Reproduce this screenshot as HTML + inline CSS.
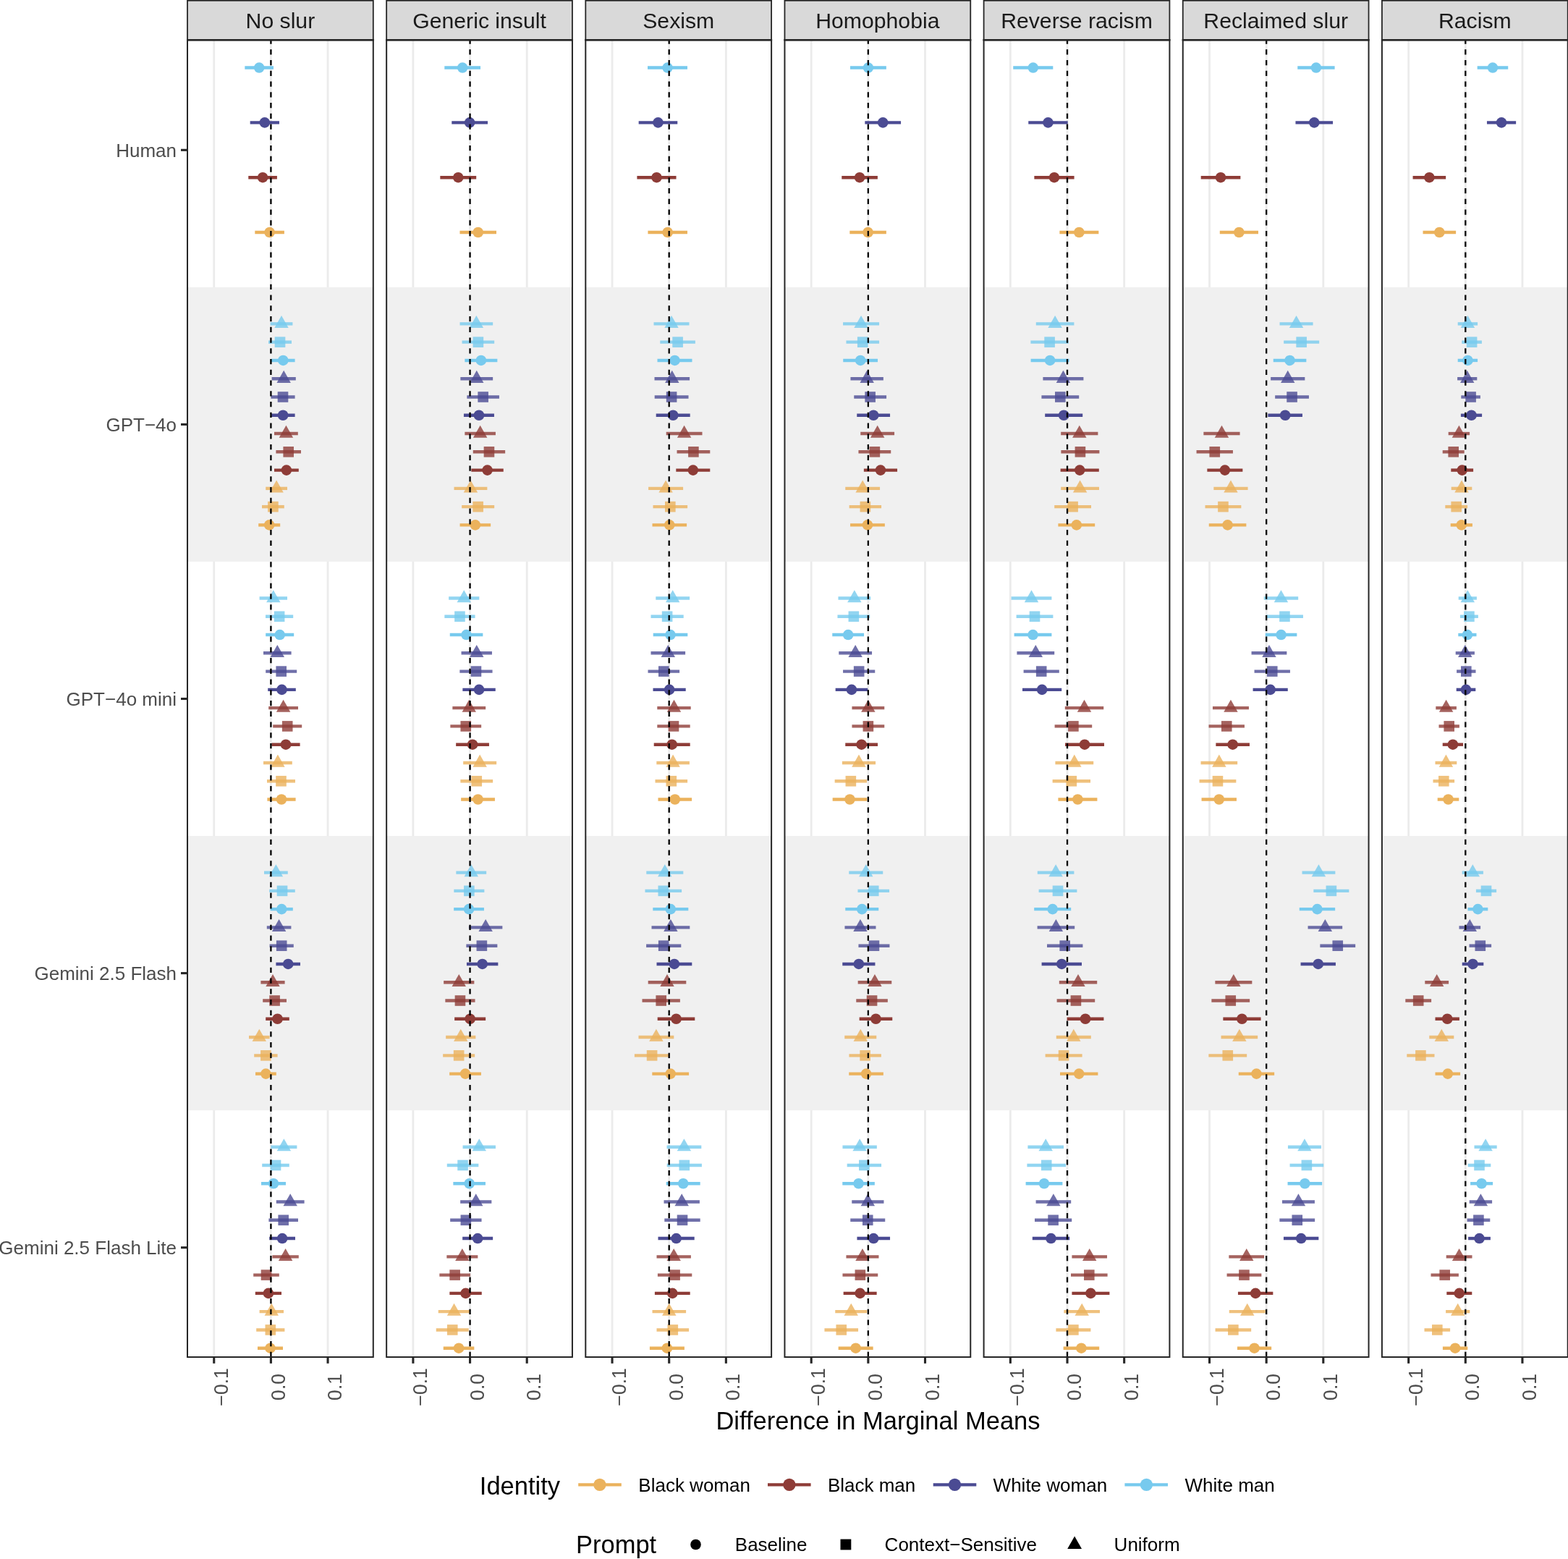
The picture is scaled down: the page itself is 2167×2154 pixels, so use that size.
<!DOCTYPE html><html><head><meta charset="utf-8"><style>html,body{margin:0;padding:0;background:#fff}svg{display:block}text{font-family:"Liberation Sans",Arial,sans-serif}</style></head><body>
<svg width="2167" height="2154" viewBox="0 0 2167 2154">
<rect width="2167" height="2154" fill="#fff"/>
<rect x="259" y="0.8" width="256.8" height="54.45" fill="#D9D9D9" stroke="#262626" stroke-width="1.8"/>
<text transform="translate(387.4,38.8)" font-size="30.2" fill="#1A1A1A" text-anchor="middle">No slur</text>
<rect x="259" y="55.7" width="256.8" height="1819.3" fill="#fff"/>
<line x1="295.75" y1="55.7" x2="295.75" y2="1875.0" stroke="#EBEBEB" stroke-width="2.8"/>
<line x1="374.4" y1="55.7" x2="374.4" y2="1875.0" stroke="#EBEBEB" stroke-width="2.8"/>
<line x1="453.05" y1="55.7" x2="453.05" y2="1875.0" stroke="#EBEBEB" stroke-width="2.8"/>
<rect x="259" y="396.85" width="256.8" height="379.1" fill="#F0F0F0"/>
<rect x="259" y="1155.05" width="256.8" height="379.1" fill="#F0F0F0"/>
<line x1="338.35" y1="93.57" x2="377.99" y2="93.57" stroke="#77CAEE" stroke-width="4.4"/>
<circle cx="358.17" cy="93.57" r="7.3" fill="#77CAEE"/>
<line x1="345.67" y1="169.39" x2="385.97" y2="169.39" stroke="#4B4B93" stroke-width="4.4"/>
<circle cx="365.82" cy="169.39" r="7.3" fill="#4B4B93"/>
<line x1="343.27" y1="245.21" x2="382.91" y2="245.21" stroke="#8E3C37" stroke-width="4.4"/>
<circle cx="363.09" cy="245.21" r="7.3" fill="#8E3C37"/>
<line x1="352.32" y1="321.03" x2="392.89" y2="321.03" stroke="#EBB25C" stroke-width="4.4"/>
<circle cx="372.6" cy="321.03" r="7.3" fill="#EBB25C"/>
<line x1="373.6" y1="447.4" x2="404.4" y2="447.4" stroke="#77CAEE" stroke-width="4.4" stroke-opacity="0.8"/>
<path d="M389 436.04L398.71 453.07L379.29 453.07Z" fill="#77CAEE" fill-opacity="0.8"/>
<line x1="371" y1="472.67" x2="403" y2="472.67" stroke="#77CAEE" stroke-width="4.4" stroke-opacity="0.8"/>
<rect x="379.7" y="465.37" width="14.6" height="14.6" fill="#77CAEE" fill-opacity="0.8"/>
<line x1="375" y1="497.94" x2="407.6" y2="497.94" stroke="#77CAEE" stroke-width="4.4"/>
<circle cx="391.3" cy="497.94" r="7.3" fill="#77CAEE"/>
<line x1="375.6" y1="523.22" x2="408.8" y2="523.22" stroke="#4B4B93" stroke-width="4.4" stroke-opacity="0.8"/>
<path d="M392.2 511.86L401.91 528.89L382.49 528.89Z" fill="#4B4B93" fill-opacity="0.8"/>
<line x1="374.4" y1="548.49" x2="407.6" y2="548.49" stroke="#4B4B93" stroke-width="4.4" stroke-opacity="0.8"/>
<rect x="383.7" y="541.19" width="14.6" height="14.6" fill="#4B4B93" fill-opacity="0.8"/>
<line x1="374.6" y1="573.76" x2="407.6" y2="573.76" stroke="#4B4B93" stroke-width="4.4"/>
<circle cx="391.1" cy="573.76" r="7.3" fill="#4B4B93"/>
<line x1="379" y1="599.04" x2="411.8" y2="599.04" stroke="#8E3C37" stroke-width="4.4" stroke-opacity="0.8"/>
<path d="M395.4 587.68L405.11 604.71L385.69 604.71Z" fill="#8E3C37" fill-opacity="0.8"/>
<line x1="381.4" y1="624.31" x2="416" y2="624.31" stroke="#8E3C37" stroke-width="4.4" stroke-opacity="0.8"/>
<rect x="391.4" y="617.01" width="14.6" height="14.6" fill="#8E3C37" fill-opacity="0.8"/>
<line x1="379" y1="649.58" x2="412.8" y2="649.58" stroke="#8E3C37" stroke-width="4.4"/>
<circle cx="395.9" cy="649.58" r="7.3" fill="#8E3C37"/>
<line x1="367.2" y1="674.86" x2="397" y2="674.86" stroke="#EBB25C" stroke-width="4.4" stroke-opacity="0.8"/>
<path d="M382.1 663.5L391.81 680.53L372.39 680.53Z" fill="#EBB25C" fill-opacity="0.8"/>
<line x1="362" y1="700.13" x2="392.8" y2="700.13" stroke="#EBB25C" stroke-width="4.4" stroke-opacity="0.8"/>
<rect x="370.1" y="692.83" width="14.6" height="14.6" fill="#EBB25C" fill-opacity="0.8"/>
<line x1="357.2" y1="725.4" x2="387.2" y2="725.4" stroke="#EBB25C" stroke-width="4.4"/>
<circle cx="372.2" cy="725.4" r="7.3" fill="#EBB25C"/>
<line x1="358.6" y1="826.5" x2="397" y2="826.5" stroke="#77CAEE" stroke-width="4.4" stroke-opacity="0.8"/>
<path d="M377.8 815.14L387.51 832.17L368.09 832.17Z" fill="#77CAEE" fill-opacity="0.8"/>
<line x1="367" y1="851.77" x2="405.2" y2="851.77" stroke="#77CAEE" stroke-width="4.4" stroke-opacity="0.8"/>
<rect x="378.8" y="844.47" width="14.6" height="14.6" fill="#77CAEE" fill-opacity="0.8"/>
<line x1="367.2" y1="877.04" x2="406.2" y2="877.04" stroke="#77CAEE" stroke-width="4.4"/>
<circle cx="386.7" cy="877.04" r="7.3" fill="#77CAEE"/>
<line x1="364" y1="902.32" x2="402.6" y2="902.32" stroke="#4B4B93" stroke-width="4.4" stroke-opacity="0.8"/>
<path d="M383.3 890.96L393.01 907.99L373.59 907.99Z" fill="#4B4B93" fill-opacity="0.8"/>
<line x1="367.2" y1="927.59" x2="410.2" y2="927.59" stroke="#4B4B93" stroke-width="4.4" stroke-opacity="0.8"/>
<rect x="381.4" y="920.29" width="14.6" height="14.6" fill="#4B4B93" fill-opacity="0.8"/>
<line x1="370.2" y1="952.86" x2="408.8" y2="952.86" stroke="#4B4B93" stroke-width="4.4"/>
<circle cx="389.5" cy="952.86" r="7.3" fill="#4B4B93"/>
<line x1="371.2" y1="978.14" x2="412" y2="978.14" stroke="#8E3C37" stroke-width="4.4" stroke-opacity="0.8"/>
<path d="M391.6 966.78L401.31 983.81L381.89 983.81Z" fill="#8E3C37" fill-opacity="0.8"/>
<line x1="377.2" y1="1003.41" x2="417.2" y2="1003.41" stroke="#8E3C37" stroke-width="4.4" stroke-opacity="0.8"/>
<rect x="389.9" y="996.11" width="14.6" height="14.6" fill="#8E3C37" fill-opacity="0.8"/>
<line x1="375.4" y1="1028.68" x2="414.6" y2="1028.68" stroke="#8E3C37" stroke-width="4.4"/>
<circle cx="395" cy="1028.68" r="7.3" fill="#8E3C37"/>
<line x1="364" y1="1053.96" x2="403.8" y2="1053.96" stroke="#EBB25C" stroke-width="4.4" stroke-opacity="0.8"/>
<path d="M383.9 1042.6L393.61 1059.63L374.19 1059.63Z" fill="#EBB25C" fill-opacity="0.8"/>
<line x1="369" y1="1079.23" x2="408" y2="1079.23" stroke="#EBB25C" stroke-width="4.4" stroke-opacity="0.8"/>
<rect x="381.2" y="1071.93" width="14.6" height="14.6" fill="#EBB25C" fill-opacity="0.8"/>
<line x1="369.4" y1="1104.5" x2="408.6" y2="1104.5" stroke="#EBB25C" stroke-width="4.4"/>
<circle cx="389" cy="1104.5" r="7.3" fill="#EBB25C"/>
<line x1="365" y1="1205.6" x2="397.8" y2="1205.6" stroke="#77CAEE" stroke-width="4.4" stroke-opacity="0.8"/>
<path d="M381.4 1194.24L391.11 1211.27L371.69 1211.27Z" fill="#77CAEE" fill-opacity="0.8"/>
<line x1="372.2" y1="1230.87" x2="407.8" y2="1230.87" stroke="#77CAEE" stroke-width="4.4" stroke-opacity="0.8"/>
<rect x="382.7" y="1223.57" width="14.6" height="14.6" fill="#77CAEE" fill-opacity="0.8"/>
<line x1="373.6" y1="1256.14" x2="404.8" y2="1256.14" stroke="#77CAEE" stroke-width="4.4"/>
<circle cx="389.2" cy="1256.14" r="7.3" fill="#77CAEE"/>
<line x1="368.8" y1="1281.42" x2="402.4" y2="1281.42" stroke="#4B4B93" stroke-width="4.4" stroke-opacity="0.8"/>
<path d="M385.6 1270.06L395.31 1287.09L375.89 1287.09Z" fill="#4B4B93" fill-opacity="0.8"/>
<line x1="372.6" y1="1306.69" x2="405.8" y2="1306.69" stroke="#4B4B93" stroke-width="4.4" stroke-opacity="0.8"/>
<rect x="381.9" y="1299.39" width="14.6" height="14.6" fill="#4B4B93" fill-opacity="0.8"/>
<line x1="381.4" y1="1331.96" x2="415" y2="1331.96" stroke="#4B4B93" stroke-width="4.4"/>
<circle cx="398.2" cy="1331.96" r="7.3" fill="#4B4B93"/>
<line x1="360.4" y1="1357.24" x2="393.6" y2="1357.24" stroke="#8E3C37" stroke-width="4.4" stroke-opacity="0.8"/>
<path d="M377 1345.88L386.71 1362.91L367.29 1362.91Z" fill="#8E3C37" fill-opacity="0.8"/>
<line x1="363.2" y1="1382.51" x2="396" y2="1382.51" stroke="#8E3C37" stroke-width="4.4" stroke-opacity="0.8"/>
<rect x="372.3" y="1375.21" width="14.6" height="14.6" fill="#8E3C37" fill-opacity="0.8"/>
<line x1="367.2" y1="1407.78" x2="399.8" y2="1407.78" stroke="#8E3C37" stroke-width="4.4"/>
<circle cx="383.5" cy="1407.78" r="7.3" fill="#8E3C37"/>
<line x1="344" y1="1433.06" x2="372.6" y2="1433.06" stroke="#EBB25C" stroke-width="4.4" stroke-opacity="0.8"/>
<path d="M358.3 1421.7L368.01 1438.73L348.59 1438.73Z" fill="#EBB25C" fill-opacity="0.8"/>
<line x1="351.2" y1="1458.33" x2="383.6" y2="1458.33" stroke="#EBB25C" stroke-width="4.4" stroke-opacity="0.8"/>
<rect x="360.1" y="1451.03" width="14.6" height="14.6" fill="#EBB25C" fill-opacity="0.8"/>
<line x1="353" y1="1483.6" x2="381.8" y2="1483.6" stroke="#EBB25C" stroke-width="4.4"/>
<circle cx="367.4" cy="1483.6" r="7.3" fill="#EBB25C"/>
<line x1="374.4" y1="1584.7" x2="410.4" y2="1584.7" stroke="#77CAEE" stroke-width="4.4" stroke-opacity="0.8"/>
<path d="M392.4 1573.34L402.11 1590.37L382.69 1590.37Z" fill="#77CAEE" fill-opacity="0.8"/>
<line x1="362.2" y1="1609.97" x2="399.8" y2="1609.97" stroke="#77CAEE" stroke-width="4.4" stroke-opacity="0.8"/>
<rect x="373.7" y="1602.67" width="14.6" height="14.6" fill="#77CAEE" fill-opacity="0.8"/>
<line x1="361" y1="1635.24" x2="395" y2="1635.24" stroke="#77CAEE" stroke-width="4.4"/>
<circle cx="378" cy="1635.24" r="7.3" fill="#77CAEE"/>
<line x1="381.8" y1="1660.52" x2="420.6" y2="1660.52" stroke="#4B4B93" stroke-width="4.4" stroke-opacity="0.8"/>
<path d="M401.2 1649.16L410.91 1666.19L391.49 1666.19Z" fill="#4B4B93" fill-opacity="0.8"/>
<line x1="371.4" y1="1685.79" x2="412" y2="1685.79" stroke="#4B4B93" stroke-width="4.4" stroke-opacity="0.8"/>
<rect x="384.4" y="1678.49" width="14.6" height="14.6" fill="#4B4B93" fill-opacity="0.8"/>
<line x1="372.2" y1="1711.06" x2="408" y2="1711.06" stroke="#4B4B93" stroke-width="4.4"/>
<circle cx="390.1" cy="1711.06" r="7.3" fill="#4B4B93"/>
<line x1="376.4" y1="1736.34" x2="412.8" y2="1736.34" stroke="#8E3C37" stroke-width="4.4" stroke-opacity="0.8"/>
<path d="M394.6 1724.98L404.31 1742.01L384.89 1742.01Z" fill="#8E3C37" fill-opacity="0.8"/>
<line x1="350.2" y1="1761.61" x2="385.8" y2="1761.61" stroke="#8E3C37" stroke-width="4.4" stroke-opacity="0.8"/>
<rect x="360.7" y="1754.31" width="14.6" height="14.6" fill="#8E3C37" fill-opacity="0.8"/>
<line x1="352.8" y1="1786.88" x2="389" y2="1786.88" stroke="#8E3C37" stroke-width="4.4"/>
<circle cx="370.9" cy="1786.88" r="7.3" fill="#8E3C37"/>
<line x1="358.6" y1="1812.16" x2="392" y2="1812.16" stroke="#EBB25C" stroke-width="4.4" stroke-opacity="0.8"/>
<path d="M375.3 1800.8L385.01 1817.83L365.59 1817.83Z" fill="#EBB25C" fill-opacity="0.8"/>
<line x1="354.2" y1="1837.43" x2="393.4" y2="1837.43" stroke="#EBB25C" stroke-width="4.4" stroke-opacity="0.8"/>
<rect x="366.5" y="1830.13" width="14.6" height="14.6" fill="#EBB25C" fill-opacity="0.8"/>
<line x1="356" y1="1862.7" x2="391" y2="1862.7" stroke="#EBB25C" stroke-width="4.4"/>
<circle cx="373.5" cy="1862.7" r="7.3" fill="#EBB25C"/>
<line x1="374.4" y1="1875.0" x2="374.4" y2="55.7" stroke="#000" stroke-width="2.3" stroke-dasharray="7.2 7.55"/>
<rect x="259" y="55.3" width="256.8" height="1819.7" fill="none" stroke="#262626" stroke-width="2"/>
<line x1="258" y1="55.3" x2="516.8" y2="55.3" stroke="#262626" stroke-width="2.6"/>
<line x1="295.75" y1="1875" x2="295.75" y2="1883.8" stroke="#262626" stroke-width="3.1"/>
<text transform="translate(314.85,1916.4) rotate(-90) scale(1,1.025)" font-size="26.6" fill="#4D4D4D" text-anchor="middle">−0.1</text>
<line x1="374.4" y1="1875" x2="374.4" y2="1883.8" stroke="#262626" stroke-width="3.1"/>
<text transform="translate(393.5,1916.4) rotate(-90) scale(1,1.025)" font-size="26.6" fill="#4D4D4D" text-anchor="middle">0.0</text>
<line x1="453.05" y1="1875" x2="453.05" y2="1883.8" stroke="#262626" stroke-width="3.1"/>
<text transform="translate(472.15,1916.4) rotate(-90) scale(1,1.025)" font-size="26.6" fill="#4D4D4D" text-anchor="middle">0.1</text>
<rect x="534.15" y="0.8" width="256.8" height="54.45" fill="#D9D9D9" stroke="#262626" stroke-width="1.8"/>
<text transform="translate(662.55,38.8)" font-size="30.2" fill="#1A1A1A" text-anchor="middle">Generic insult</text>
<rect x="534.15" y="55.7" width="256.8" height="1819.3" fill="#fff"/>
<line x1="570.9" y1="55.7" x2="570.9" y2="1875.0" stroke="#EBEBEB" stroke-width="2.8"/>
<line x1="649.55" y1="55.7" x2="649.55" y2="1875.0" stroke="#EBEBEB" stroke-width="2.8"/>
<line x1="728.2" y1="55.7" x2="728.2" y2="1875.0" stroke="#EBEBEB" stroke-width="2.8"/>
<rect x="534.15" y="396.85" width="256.8" height="379.1" fill="#F0F0F0"/>
<rect x="534.15" y="1155.05" width="256.8" height="379.1" fill="#F0F0F0"/>
<line x1="614.3" y1="93.57" x2="664.05" y2="93.57" stroke="#77CAEE" stroke-width="4.4"/>
<circle cx="639.17" cy="93.57" r="7.3" fill="#77CAEE"/>
<line x1="624.28" y1="169.39" x2="674.03" y2="169.39" stroke="#4B4B93" stroke-width="4.4"/>
<circle cx="649.15" cy="169.39" r="7.3" fill="#4B4B93"/>
<line x1="608.31" y1="245.21" x2="658.2" y2="245.21" stroke="#8E3C37" stroke-width="4.4"/>
<circle cx="633.25" cy="245.21" r="7.3" fill="#8E3C37"/>
<line x1="635.45" y1="321.03" x2="686" y2="321.03" stroke="#EBB25C" stroke-width="4.4"/>
<circle cx="660.72" cy="321.03" r="7.3" fill="#EBB25C"/>
<line x1="635.55" y1="447.4" x2="681.15" y2="447.4" stroke="#77CAEE" stroke-width="4.4" stroke-opacity="0.8"/>
<path d="M658.35 436.04L668.06 453.07L648.64 453.07Z" fill="#77CAEE" fill-opacity="0.8"/>
<line x1="638.55" y1="472.67" x2="683.15" y2="472.67" stroke="#77CAEE" stroke-width="4.4" stroke-opacity="0.8"/>
<rect x="653.55" y="465.37" width="14.6" height="14.6" fill="#77CAEE" fill-opacity="0.8"/>
<line x1="642.35" y1="497.94" x2="687.35" y2="497.94" stroke="#77CAEE" stroke-width="4.4"/>
<circle cx="664.85" cy="497.94" r="7.3" fill="#77CAEE"/>
<line x1="636.35" y1="523.22" x2="681.15" y2="523.22" stroke="#4B4B93" stroke-width="4.4" stroke-opacity="0.8"/>
<path d="M658.75 511.86L668.46 528.89L649.04 528.89Z" fill="#4B4B93" fill-opacity="0.8"/>
<line x1="645.35" y1="548.49" x2="689.95" y2="548.49" stroke="#4B4B93" stroke-width="4.4" stroke-opacity="0.8"/>
<rect x="660.35" y="541.19" width="14.6" height="14.6" fill="#4B4B93" fill-opacity="0.8"/>
<line x1="640.95" y1="573.76" x2="682.95" y2="573.76" stroke="#4B4B93" stroke-width="4.4"/>
<circle cx="661.95" cy="573.76" r="7.3" fill="#4B4B93"/>
<line x1="642.35" y1="599.04" x2="684.95" y2="599.04" stroke="#8E3C37" stroke-width="4.4" stroke-opacity="0.8"/>
<path d="M663.65 587.68L673.36 604.71L653.94 604.71Z" fill="#8E3C37" fill-opacity="0.8"/>
<line x1="653.75" y1="624.31" x2="698.15" y2="624.31" stroke="#8E3C37" stroke-width="4.4" stroke-opacity="0.8"/>
<rect x="668.65" y="617.01" width="14.6" height="14.6" fill="#8E3C37" fill-opacity="0.8"/>
<line x1="651.35" y1="649.58" x2="695.75" y2="649.58" stroke="#8E3C37" stroke-width="4.4"/>
<circle cx="673.55" cy="649.58" r="7.3" fill="#8E3C37"/>
<line x1="627.55" y1="674.86" x2="673.35" y2="674.86" stroke="#EBB25C" stroke-width="4.4" stroke-opacity="0.8"/>
<path d="M650.45 663.5L660.16 680.53L640.74 680.53Z" fill="#EBB25C" fill-opacity="0.8"/>
<line x1="638.15" y1="700.13" x2="683.15" y2="700.13" stroke="#EBB25C" stroke-width="4.4" stroke-opacity="0.8"/>
<rect x="653.35" y="692.83" width="14.6" height="14.6" fill="#EBB25C" fill-opacity="0.8"/>
<line x1="635.55" y1="725.4" x2="678.15" y2="725.4" stroke="#EBB25C" stroke-width="4.4"/>
<circle cx="656.85" cy="725.4" r="7.3" fill="#EBB25C"/>
<line x1="620.15" y1="826.5" x2="662.35" y2="826.5" stroke="#77CAEE" stroke-width="4.4" stroke-opacity="0.8"/>
<path d="M641.25 815.14L650.96 832.17L631.54 832.17Z" fill="#77CAEE" fill-opacity="0.8"/>
<line x1="614.35" y1="851.77" x2="656.55" y2="851.77" stroke="#77CAEE" stroke-width="4.4" stroke-opacity="0.8"/>
<rect x="628.15" y="844.47" width="14.6" height="14.6" fill="#77CAEE" fill-opacity="0.8"/>
<line x1="621.75" y1="877.04" x2="667.35" y2="877.04" stroke="#77CAEE" stroke-width="4.4"/>
<circle cx="644.55" cy="877.04" r="7.3" fill="#77CAEE"/>
<line x1="637.55" y1="902.32" x2="679.95" y2="902.32" stroke="#4B4B93" stroke-width="4.4" stroke-opacity="0.8"/>
<path d="M658.75 890.96L668.46 907.99L649.04 907.99Z" fill="#4B4B93" fill-opacity="0.8"/>
<line x1="635.35" y1="927.59" x2="680.55" y2="927.59" stroke="#4B4B93" stroke-width="4.4" stroke-opacity="0.8"/>
<rect x="650.65" y="920.29" width="14.6" height="14.6" fill="#4B4B93" fill-opacity="0.8"/>
<line x1="639.35" y1="952.86" x2="684.75" y2="952.86" stroke="#4B4B93" stroke-width="4.4"/>
<circle cx="662.05" cy="952.86" r="7.3" fill="#4B4B93"/>
<line x1="625.35" y1="978.14" x2="671.15" y2="978.14" stroke="#8E3C37" stroke-width="4.4" stroke-opacity="0.8"/>
<path d="M648.25 966.78L657.96 983.81L638.54 983.81Z" fill="#8E3C37" fill-opacity="0.8"/>
<line x1="622.35" y1="1003.41" x2="665.15" y2="1003.41" stroke="#8E3C37" stroke-width="4.4" stroke-opacity="0.8"/>
<rect x="636.45" y="996.11" width="14.6" height="14.6" fill="#8E3C37" fill-opacity="0.8"/>
<line x1="630.15" y1="1028.68" x2="675.95" y2="1028.68" stroke="#8E3C37" stroke-width="4.4"/>
<circle cx="653.05" cy="1028.68" r="7.3" fill="#8E3C37"/>
<line x1="640.15" y1="1053.96" x2="686.15" y2="1053.96" stroke="#EBB25C" stroke-width="4.4" stroke-opacity="0.8"/>
<path d="M663.15 1042.6L672.86 1059.63L653.44 1059.63Z" fill="#EBB25C" fill-opacity="0.8"/>
<line x1="636.35" y1="1079.23" x2="681.15" y2="1079.23" stroke="#EBB25C" stroke-width="4.4" stroke-opacity="0.8"/>
<rect x="651.45" y="1071.93" width="14.6" height="14.6" fill="#EBB25C" fill-opacity="0.8"/>
<line x1="637.15" y1="1104.5" x2="683.95" y2="1104.5" stroke="#EBB25C" stroke-width="4.4"/>
<circle cx="660.55" cy="1104.5" r="7.3" fill="#EBB25C"/>
<line x1="630.35" y1="1205.6" x2="672.15" y2="1205.6" stroke="#77CAEE" stroke-width="4.4" stroke-opacity="0.8"/>
<path d="M651.25 1194.24L660.96 1211.27L641.54 1211.27Z" fill="#77CAEE" fill-opacity="0.8"/>
<line x1="627.35" y1="1230.87" x2="669.35" y2="1230.87" stroke="#77CAEE" stroke-width="4.4" stroke-opacity="0.8"/>
<rect x="641.05" y="1223.57" width="14.6" height="14.6" fill="#77CAEE" fill-opacity="0.8"/>
<line x1="627.15" y1="1256.14" x2="668.95" y2="1256.14" stroke="#77CAEE" stroke-width="4.4"/>
<circle cx="648.05" cy="1256.14" r="7.3" fill="#77CAEE"/>
<line x1="647.95" y1="1281.42" x2="694.35" y2="1281.42" stroke="#4B4B93" stroke-width="4.4" stroke-opacity="0.8"/>
<path d="M671.15 1270.06L680.86 1287.09L661.44 1287.09Z" fill="#4B4B93" fill-opacity="0.8"/>
<line x1="644.35" y1="1306.69" x2="687.35" y2="1306.69" stroke="#4B4B93" stroke-width="4.4" stroke-opacity="0.8"/>
<rect x="658.55" y="1299.39" width="14.6" height="14.6" fill="#4B4B93" fill-opacity="0.8"/>
<line x1="644.95" y1="1331.96" x2="688.35" y2="1331.96" stroke="#4B4B93" stroke-width="4.4"/>
<circle cx="666.65" cy="1331.96" r="7.3" fill="#4B4B93"/>
<line x1="613.15" y1="1357.24" x2="655.35" y2="1357.24" stroke="#8E3C37" stroke-width="4.4" stroke-opacity="0.8"/>
<path d="M634.25 1345.88L643.96 1362.91L624.54 1362.91Z" fill="#8E3C37" fill-opacity="0.8"/>
<line x1="615.35" y1="1382.51" x2="656.55" y2="1382.51" stroke="#8E3C37" stroke-width="4.4" stroke-opacity="0.8"/>
<rect x="628.65" y="1375.21" width="14.6" height="14.6" fill="#8E3C37" fill-opacity="0.8"/>
<line x1="628.15" y1="1407.78" x2="671.15" y2="1407.78" stroke="#8E3C37" stroke-width="4.4"/>
<circle cx="649.65" cy="1407.78" r="7.3" fill="#8E3C37"/>
<line x1="616.15" y1="1433.06" x2="657.35" y2="1433.06" stroke="#EBB25C" stroke-width="4.4" stroke-opacity="0.8"/>
<path d="M636.75 1421.7L646.46 1438.73L627.04 1438.73Z" fill="#EBB25C" fill-opacity="0.8"/>
<line x1="612.15" y1="1458.33" x2="656.15" y2="1458.33" stroke="#EBB25C" stroke-width="4.4" stroke-opacity="0.8"/>
<rect x="626.85" y="1451.03" width="14.6" height="14.6" fill="#EBB25C" fill-opacity="0.8"/>
<line x1="621.15" y1="1483.6" x2="664.95" y2="1483.6" stroke="#EBB25C" stroke-width="4.4"/>
<circle cx="643.05" cy="1483.6" r="7.3" fill="#EBB25C"/>
<line x1="639.55" y1="1584.7" x2="684.95" y2="1584.7" stroke="#77CAEE" stroke-width="4.4" stroke-opacity="0.8"/>
<path d="M662.25 1573.34L671.96 1590.37L652.54 1590.37Z" fill="#77CAEE" fill-opacity="0.8"/>
<line x1="617.75" y1="1609.97" x2="661.35" y2="1609.97" stroke="#77CAEE" stroke-width="4.4" stroke-opacity="0.8"/>
<rect x="632.25" y="1602.67" width="14.6" height="14.6" fill="#77CAEE" fill-opacity="0.8"/>
<line x1="626.35" y1="1635.24" x2="670.95" y2="1635.24" stroke="#77CAEE" stroke-width="4.4"/>
<circle cx="648.65" cy="1635.24" r="7.3" fill="#77CAEE"/>
<line x1="636.15" y1="1660.52" x2="679.35" y2="1660.52" stroke="#4B4B93" stroke-width="4.4" stroke-opacity="0.8"/>
<path d="M657.75 1649.16L667.46 1666.19L648.04 1666.19Z" fill="#4B4B93" fill-opacity="0.8"/>
<line x1="622.15" y1="1685.79" x2="665.55" y2="1685.79" stroke="#4B4B93" stroke-width="4.4" stroke-opacity="0.8"/>
<rect x="636.55" y="1678.49" width="14.6" height="14.6" fill="#4B4B93" fill-opacity="0.8"/>
<line x1="639.15" y1="1711.06" x2="681.15" y2="1711.06" stroke="#4B4B93" stroke-width="4.4"/>
<circle cx="660.15" cy="1711.06" r="7.3" fill="#4B4B93"/>
<line x1="617.35" y1="1736.34" x2="660.35" y2="1736.34" stroke="#8E3C37" stroke-width="4.4" stroke-opacity="0.8"/>
<path d="M638.85 1724.98L648.56 1742.01L629.14 1742.01Z" fill="#8E3C37" fill-opacity="0.8"/>
<line x1="607.35" y1="1761.61" x2="649.95" y2="1761.61" stroke="#8E3C37" stroke-width="4.4" stroke-opacity="0.8"/>
<rect x="621.35" y="1754.31" width="14.6" height="14.6" fill="#8E3C37" fill-opacity="0.8"/>
<line x1="621.35" y1="1786.88" x2="665.75" y2="1786.88" stroke="#8E3C37" stroke-width="4.4"/>
<circle cx="643.55" cy="1786.88" r="7.3" fill="#8E3C37"/>
<line x1="605.75" y1="1812.16" x2="649.35" y2="1812.16" stroke="#EBB25C" stroke-width="4.4" stroke-opacity="0.8"/>
<path d="M627.55 1800.8L637.26 1817.83L617.84 1817.83Z" fill="#EBB25C" fill-opacity="0.8"/>
<line x1="602.75" y1="1837.43" x2="647.75" y2="1837.43" stroke="#EBB25C" stroke-width="4.4" stroke-opacity="0.8"/>
<rect x="617.95" y="1830.13" width="14.6" height="14.6" fill="#EBB25C" fill-opacity="0.8"/>
<line x1="612.75" y1="1862.7" x2="655.35" y2="1862.7" stroke="#EBB25C" stroke-width="4.4"/>
<circle cx="634.05" cy="1862.7" r="7.3" fill="#EBB25C"/>
<line x1="649.55" y1="1875.0" x2="649.55" y2="55.7" stroke="#000" stroke-width="2.3" stroke-dasharray="7.2 7.55"/>
<rect x="534.15" y="55.3" width="256.8" height="1819.7" fill="none" stroke="#262626" stroke-width="2"/>
<line x1="533.15" y1="55.3" x2="791.95" y2="55.3" stroke="#262626" stroke-width="2.6"/>
<line x1="570.9" y1="1875" x2="570.9" y2="1883.8" stroke="#262626" stroke-width="3.1"/>
<text transform="translate(590,1916.4) rotate(-90) scale(1,1.025)" font-size="26.6" fill="#4D4D4D" text-anchor="middle">−0.1</text>
<line x1="649.55" y1="1875" x2="649.55" y2="1883.8" stroke="#262626" stroke-width="3.1"/>
<text transform="translate(668.65,1916.4) rotate(-90) scale(1,1.025)" font-size="26.6" fill="#4D4D4D" text-anchor="middle">0.0</text>
<line x1="728.2" y1="1875" x2="728.2" y2="1883.8" stroke="#262626" stroke-width="3.1"/>
<text transform="translate(747.3,1916.4) rotate(-90) scale(1,1.025)" font-size="26.6" fill="#4D4D4D" text-anchor="middle">0.1</text>
<rect x="809.3" y="0.8" width="256.8" height="54.45" fill="#D9D9D9" stroke="#262626" stroke-width="1.8"/>
<text transform="translate(937.7,38.8)" font-size="30.2" fill="#1A1A1A" text-anchor="middle">Sexism</text>
<rect x="809.3" y="55.7" width="256.8" height="1819.3" fill="#fff"/>
<line x1="846.05" y1="55.7" x2="846.05" y2="1875.0" stroke="#EBEBEB" stroke-width="2.8"/>
<line x1="924.7" y1="55.7" x2="924.7" y2="1875.0" stroke="#EBEBEB" stroke-width="2.8"/>
<line x1="1003.35" y1="55.7" x2="1003.35" y2="1875.0" stroke="#EBEBEB" stroke-width="2.8"/>
<rect x="809.3" y="396.85" width="256.8" height="379.1" fill="#F0F0F0"/>
<rect x="809.3" y="1155.05" width="256.8" height="379.1" fill="#F0F0F0"/>
<line x1="895.04" y1="93.57" x2="949.97" y2="93.57" stroke="#77CAEE" stroke-width="4.4"/>
<circle cx="922.51" cy="93.57" r="7.3" fill="#77CAEE"/>
<line x1="882.66" y1="169.39" x2="936.27" y2="169.39" stroke="#4B4B93" stroke-width="4.4"/>
<circle cx="909.47" cy="169.39" r="7.3" fill="#4B4B93"/>
<line x1="880.4" y1="245.21" x2="934.54" y2="245.21" stroke="#8E3C37" stroke-width="4.4"/>
<circle cx="907.47" cy="245.21" r="7.3" fill="#8E3C37"/>
<line x1="895.43" y1="321.03" x2="949.97" y2="321.03" stroke="#EBB25C" stroke-width="4.4"/>
<circle cx="922.7" cy="321.03" r="7.3" fill="#EBB25C"/>
<line x1="903.5" y1="447.4" x2="952.5" y2="447.4" stroke="#77CAEE" stroke-width="4.4" stroke-opacity="0.8"/>
<path d="M928 436.04L937.71 453.07L918.29 453.07Z" fill="#77CAEE" fill-opacity="0.8"/>
<line x1="912.3" y1="472.67" x2="960.9" y2="472.67" stroke="#77CAEE" stroke-width="4.4" stroke-opacity="0.8"/>
<rect x="929.3" y="465.37" width="14.6" height="14.6" fill="#77CAEE" fill-opacity="0.8"/>
<line x1="908.5" y1="497.94" x2="956.5" y2="497.94" stroke="#77CAEE" stroke-width="4.4"/>
<circle cx="932.5" cy="497.94" r="7.3" fill="#77CAEE"/>
<line x1="904.5" y1="523.22" x2="953.1" y2="523.22" stroke="#4B4B93" stroke-width="4.4" stroke-opacity="0.8"/>
<path d="M928.8 511.86L938.51 528.89L919.09 528.89Z" fill="#4B4B93" fill-opacity="0.8"/>
<line x1="904.7" y1="548.49" x2="951.5" y2="548.49" stroke="#4B4B93" stroke-width="4.4" stroke-opacity="0.8"/>
<rect x="920.8" y="541.19" width="14.6" height="14.6" fill="#4B4B93" fill-opacity="0.8"/>
<line x1="906.7" y1="573.76" x2="953.7" y2="573.76" stroke="#4B4B93" stroke-width="4.4"/>
<circle cx="930.2" cy="573.76" r="7.3" fill="#4B4B93"/>
<line x1="920.7" y1="599.04" x2="970.5" y2="599.04" stroke="#8E3C37" stroke-width="4.4" stroke-opacity="0.8"/>
<path d="M945.6 587.68L955.31 604.71L935.89 604.71Z" fill="#8E3C37" fill-opacity="0.8"/>
<line x1="935.5" y1="624.31" x2="981.3" y2="624.31" stroke="#8E3C37" stroke-width="4.4" stroke-opacity="0.8"/>
<rect x="951.1" y="617.01" width="14.6" height="14.6" fill="#8E3C37" fill-opacity="0.8"/>
<line x1="934.3" y1="649.58" x2="981.3" y2="649.58" stroke="#8E3C37" stroke-width="4.4"/>
<circle cx="957.8" cy="649.58" r="7.3" fill="#8E3C37"/>
<line x1="896.1" y1="674.86" x2="944.1" y2="674.86" stroke="#EBB25C" stroke-width="4.4" stroke-opacity="0.8"/>
<path d="M920.1 663.5L929.81 680.53L910.39 680.53Z" fill="#EBB25C" fill-opacity="0.8"/>
<line x1="902.5" y1="700.13" x2="950.1" y2="700.13" stroke="#EBB25C" stroke-width="4.4" stroke-opacity="0.8"/>
<rect x="919" y="692.83" width="14.6" height="14.6" fill="#EBB25C" fill-opacity="0.8"/>
<line x1="901.5" y1="725.4" x2="949.1" y2="725.4" stroke="#EBB25C" stroke-width="4.4"/>
<circle cx="925.3" cy="725.4" r="7.3" fill="#EBB25C"/>
<line x1="906.3" y1="826.5" x2="953.1" y2="826.5" stroke="#77CAEE" stroke-width="4.4" stroke-opacity="0.8"/>
<path d="M929.7 815.14L939.41 832.17L919.99 832.17Z" fill="#77CAEE" fill-opacity="0.8"/>
<line x1="899.5" y1="851.77" x2="944.7" y2="851.77" stroke="#77CAEE" stroke-width="4.4" stroke-opacity="0.8"/>
<rect x="914.8" y="844.47" width="14.6" height="14.6" fill="#77CAEE" fill-opacity="0.8"/>
<line x1="902.7" y1="877.04" x2="950.3" y2="877.04" stroke="#77CAEE" stroke-width="4.4"/>
<circle cx="926.5" cy="877.04" r="7.3" fill="#77CAEE"/>
<line x1="899.5" y1="902.32" x2="947.1" y2="902.32" stroke="#4B4B93" stroke-width="4.4" stroke-opacity="0.8"/>
<path d="M923.3 890.96L933.01 907.99L913.59 907.99Z" fill="#4B4B93" fill-opacity="0.8"/>
<line x1="895.5" y1="927.59" x2="939.1" y2="927.59" stroke="#4B4B93" stroke-width="4.4" stroke-opacity="0.8"/>
<rect x="910" y="920.29" width="14.6" height="14.6" fill="#4B4B93" fill-opacity="0.8"/>
<line x1="902.5" y1="952.86" x2="947.7" y2="952.86" stroke="#4B4B93" stroke-width="4.4"/>
<circle cx="925.1" cy="952.86" r="7.3" fill="#4B4B93"/>
<line x1="908.3" y1="978.14" x2="954.7" y2="978.14" stroke="#8E3C37" stroke-width="4.4" stroke-opacity="0.8"/>
<path d="M931.5 966.78L941.21 983.81L921.79 983.81Z" fill="#8E3C37" fill-opacity="0.8"/>
<line x1="908.3" y1="1003.41" x2="953.7" y2="1003.41" stroke="#8E3C37" stroke-width="4.4" stroke-opacity="0.8"/>
<rect x="923.7" y="996.11" width="14.6" height="14.6" fill="#8E3C37" fill-opacity="0.8"/>
<line x1="903.7" y1="1028.68" x2="953.7" y2="1028.68" stroke="#8E3C37" stroke-width="4.4"/>
<circle cx="928.7" cy="1028.68" r="7.3" fill="#8E3C37"/>
<line x1="907.3" y1="1053.96" x2="952.9" y2="1053.96" stroke="#EBB25C" stroke-width="4.4" stroke-opacity="0.8"/>
<path d="M930.1 1042.6L939.81 1059.63L920.39 1059.63Z" fill="#EBB25C" fill-opacity="0.8"/>
<line x1="905.5" y1="1079.23" x2="950.1" y2="1079.23" stroke="#EBB25C" stroke-width="4.4" stroke-opacity="0.8"/>
<rect x="920.5" y="1071.93" width="14.6" height="14.6" fill="#EBB25C" fill-opacity="0.8"/>
<line x1="909.5" y1="1104.5" x2="956.1" y2="1104.5" stroke="#EBB25C" stroke-width="4.4"/>
<circle cx="932.8" cy="1104.5" r="7.3" fill="#EBB25C"/>
<line x1="893.3" y1="1205.6" x2="944.3" y2="1205.6" stroke="#77CAEE" stroke-width="4.4" stroke-opacity="0.8"/>
<path d="M918.8 1194.24L928.51 1211.27L909.09 1211.27Z" fill="#77CAEE" fill-opacity="0.8"/>
<line x1="891.5" y1="1230.87" x2="942.1" y2="1230.87" stroke="#77CAEE" stroke-width="4.4" stroke-opacity="0.8"/>
<rect x="909.5" y="1223.57" width="14.6" height="14.6" fill="#77CAEE" fill-opacity="0.8"/>
<line x1="902.3" y1="1256.14" x2="951.3" y2="1256.14" stroke="#77CAEE" stroke-width="4.4"/>
<circle cx="926.8" cy="1256.14" r="7.3" fill="#77CAEE"/>
<line x1="900.5" y1="1281.42" x2="953.3" y2="1281.42" stroke="#4B4B93" stroke-width="4.4" stroke-opacity="0.8"/>
<path d="M926.9 1270.06L936.61 1287.09L917.19 1287.09Z" fill="#4B4B93" fill-opacity="0.8"/>
<line x1="893.1" y1="1306.69" x2="941.3" y2="1306.69" stroke="#4B4B93" stroke-width="4.4" stroke-opacity="0.8"/>
<rect x="909.9" y="1299.39" width="14.6" height="14.6" fill="#4B4B93" fill-opacity="0.8"/>
<line x1="907.5" y1="1331.96" x2="956.3" y2="1331.96" stroke="#4B4B93" stroke-width="4.4"/>
<circle cx="931.9" cy="1331.96" r="7.3" fill="#4B4B93"/>
<line x1="895.7" y1="1357.24" x2="948.3" y2="1357.24" stroke="#8E3C37" stroke-width="4.4" stroke-opacity="0.8"/>
<path d="M922 1345.88L931.71 1362.91L912.29 1362.91Z" fill="#8E3C37" fill-opacity="0.8"/>
<line x1="887.5" y1="1382.51" x2="939.9" y2="1382.51" stroke="#8E3C37" stroke-width="4.4" stroke-opacity="0.8"/>
<rect x="906.4" y="1375.21" width="14.6" height="14.6" fill="#8E3C37" fill-opacity="0.8"/>
<line x1="908.7" y1="1407.78" x2="960.3" y2="1407.78" stroke="#8E3C37" stroke-width="4.4"/>
<circle cx="934.5" cy="1407.78" r="7.3" fill="#8E3C37"/>
<line x1="882.5" y1="1433.06" x2="931.3" y2="1433.06" stroke="#EBB25C" stroke-width="4.4" stroke-opacity="0.8"/>
<path d="M906.9 1421.7L916.61 1438.73L897.19 1438.73Z" fill="#EBB25C" fill-opacity="0.8"/>
<line x1="876.9" y1="1458.33" x2="925.3" y2="1458.33" stroke="#EBB25C" stroke-width="4.4" stroke-opacity="0.8"/>
<rect x="893.8" y="1451.03" width="14.6" height="14.6" fill="#EBB25C" fill-opacity="0.8"/>
<line x1="901.3" y1="1483.6" x2="952.1" y2="1483.6" stroke="#EBB25C" stroke-width="4.4"/>
<circle cx="926.7" cy="1483.6" r="7.3" fill="#EBB25C"/>
<line x1="921.5" y1="1584.7" x2="969.3" y2="1584.7" stroke="#77CAEE" stroke-width="4.4" stroke-opacity="0.8"/>
<path d="M945.4 1573.34L955.11 1590.37L935.69 1590.37Z" fill="#77CAEE" fill-opacity="0.8"/>
<line x1="921.7" y1="1609.97" x2="969.9" y2="1609.97" stroke="#77CAEE" stroke-width="4.4" stroke-opacity="0.8"/>
<rect x="938.5" y="1602.67" width="14.6" height="14.6" fill="#77CAEE" fill-opacity="0.8"/>
<line x1="920.7" y1="1635.24" x2="967.7" y2="1635.24" stroke="#77CAEE" stroke-width="4.4"/>
<circle cx="944.2" cy="1635.24" r="7.3" fill="#77CAEE"/>
<line x1="917.5" y1="1660.52" x2="966.9" y2="1660.52" stroke="#4B4B93" stroke-width="4.4" stroke-opacity="0.8"/>
<path d="M942.2 1649.16L951.91 1666.19L932.49 1666.19Z" fill="#4B4B93" fill-opacity="0.8"/>
<line x1="918.3" y1="1685.79" x2="967.7" y2="1685.79" stroke="#4B4B93" stroke-width="4.4" stroke-opacity="0.8"/>
<rect x="935.7" y="1678.49" width="14.6" height="14.6" fill="#4B4B93" fill-opacity="0.8"/>
<line x1="909.5" y1="1711.06" x2="959.7" y2="1711.06" stroke="#4B4B93" stroke-width="4.4"/>
<circle cx="934.6" cy="1711.06" r="7.3" fill="#4B4B93"/>
<line x1="907.5" y1="1736.34" x2="954.9" y2="1736.34" stroke="#8E3C37" stroke-width="4.4" stroke-opacity="0.8"/>
<path d="M931.2 1724.98L940.91 1742.01L921.49 1742.01Z" fill="#8E3C37" fill-opacity="0.8"/>
<line x1="908.9" y1="1761.61" x2="956.3" y2="1761.61" stroke="#8E3C37" stroke-width="4.4" stroke-opacity="0.8"/>
<rect x="925.3" y="1754.31" width="14.6" height="14.6" fill="#8E3C37" fill-opacity="0.8"/>
<line x1="904.9" y1="1786.88" x2="953.7" y2="1786.88" stroke="#8E3C37" stroke-width="4.4"/>
<circle cx="929.3" cy="1786.88" r="7.3" fill="#8E3C37"/>
<line x1="901.5" y1="1812.16" x2="948.1" y2="1812.16" stroke="#EBB25C" stroke-width="4.4" stroke-opacity="0.8"/>
<path d="M924.8 1800.8L934.51 1817.83L915.09 1817.83Z" fill="#EBB25C" fill-opacity="0.8"/>
<line x1="907.5" y1="1837.43" x2="952.1" y2="1837.43" stroke="#EBB25C" stroke-width="4.4" stroke-opacity="0.8"/>
<rect x="922.5" y="1830.13" width="14.6" height="14.6" fill="#EBB25C" fill-opacity="0.8"/>
<line x1="897.9" y1="1862.7" x2="945.9" y2="1862.7" stroke="#EBB25C" stroke-width="4.4"/>
<circle cx="921.9" cy="1862.7" r="7.3" fill="#EBB25C"/>
<line x1="924.7" y1="1875.0" x2="924.7" y2="55.7" stroke="#000" stroke-width="2.3" stroke-dasharray="7.2 7.55"/>
<rect x="809.3" y="55.3" width="256.8" height="1819.7" fill="none" stroke="#262626" stroke-width="2"/>
<line x1="808.3" y1="55.3" x2="1067.1" y2="55.3" stroke="#262626" stroke-width="2.6"/>
<line x1="846.05" y1="1875" x2="846.05" y2="1883.8" stroke="#262626" stroke-width="3.1"/>
<text transform="translate(865.15,1916.4) rotate(-90) scale(1,1.025)" font-size="26.6" fill="#4D4D4D" text-anchor="middle">−0.1</text>
<line x1="924.7" y1="1875" x2="924.7" y2="1883.8" stroke="#262626" stroke-width="3.1"/>
<text transform="translate(943.8,1916.4) rotate(-90) scale(1,1.025)" font-size="26.6" fill="#4D4D4D" text-anchor="middle">0.0</text>
<line x1="1003.35" y1="1875" x2="1003.35" y2="1883.8" stroke="#262626" stroke-width="3.1"/>
<text transform="translate(1022.45,1916.4) rotate(-90) scale(1,1.025)" font-size="26.6" fill="#4D4D4D" text-anchor="middle">0.1</text>
<rect x="1084.45" y="0.8" width="256.8" height="54.45" fill="#D9D9D9" stroke="#262626" stroke-width="1.8"/>
<text transform="translate(1212.85,38.8)" font-size="30.2" fill="#1A1A1A" text-anchor="middle">Homophobia</text>
<rect x="1084.45" y="55.7" width="256.8" height="1819.3" fill="#fff"/>
<line x1="1121.2" y1="55.7" x2="1121.2" y2="1875.0" stroke="#EBEBEB" stroke-width="2.8"/>
<line x1="1199.85" y1="55.7" x2="1199.85" y2="1875.0" stroke="#EBEBEB" stroke-width="2.8"/>
<line x1="1278.5" y1="55.7" x2="1278.5" y2="1875.0" stroke="#EBEBEB" stroke-width="2.8"/>
<rect x="1084.45" y="396.85" width="256.8" height="379.1" fill="#F0F0F0"/>
<rect x="1084.45" y="1155.05" width="256.8" height="379.1" fill="#F0F0F0"/>
<line x1="1174.97" y1="93.57" x2="1224.86" y2="93.57" stroke="#77CAEE" stroke-width="4.4"/>
<circle cx="1199.92" cy="93.57" r="7.3" fill="#77CAEE"/>
<line x1="1195.33" y1="169.39" x2="1245.08" y2="169.39" stroke="#4B4B93" stroke-width="4.4"/>
<circle cx="1220.2" cy="169.39" r="7.3" fill="#4B4B93"/>
<line x1="1163.27" y1="245.21" x2="1212.89" y2="245.21" stroke="#8E3C37" stroke-width="4.4"/>
<circle cx="1188.08" cy="245.21" r="7.3" fill="#8E3C37"/>
<line x1="1174.31" y1="321.03" x2="1224.86" y2="321.03" stroke="#EBB25C" stroke-width="4.4"/>
<circle cx="1199.58" cy="321.03" r="7.3" fill="#EBB25C"/>
<line x1="1165.05" y1="447.4" x2="1215.05" y2="447.4" stroke="#77CAEE" stroke-width="4.4" stroke-opacity="0.8"/>
<path d="M1190.05 436.04L1199.76 453.07L1180.34 453.07Z" fill="#77CAEE" fill-opacity="0.8"/>
<line x1="1169.45" y1="472.67" x2="1215.05" y2="472.67" stroke="#77CAEE" stroke-width="4.4" stroke-opacity="0.8"/>
<rect x="1184.95" y="465.37" width="14.6" height="14.6" fill="#77CAEE" fill-opacity="0.8"/>
<line x1="1165.25" y1="497.94" x2="1213.05" y2="497.94" stroke="#77CAEE" stroke-width="4.4"/>
<circle cx="1189.15" cy="497.94" r="7.3" fill="#77CAEE"/>
<line x1="1175.45" y1="523.22" x2="1220.85" y2="523.22" stroke="#4B4B93" stroke-width="4.4" stroke-opacity="0.8"/>
<path d="M1198.15 511.86L1207.86 528.89L1188.44 528.89Z" fill="#4B4B93" fill-opacity="0.8"/>
<line x1="1180.25" y1="548.49" x2="1225.05" y2="548.49" stroke="#4B4B93" stroke-width="4.4" stroke-opacity="0.8"/>
<rect x="1195.35" y="541.19" width="14.6" height="14.6" fill="#4B4B93" fill-opacity="0.8"/>
<line x1="1184.25" y1="573.76" x2="1230.05" y2="573.76" stroke="#4B4B93" stroke-width="4.4"/>
<circle cx="1207.15" cy="573.76" r="7.3" fill="#4B4B93"/>
<line x1="1189.25" y1="599.04" x2="1236.05" y2="599.04" stroke="#8E3C37" stroke-width="4.4" stroke-opacity="0.8"/>
<path d="M1212.65 587.68L1222.36 604.71L1202.94 604.71Z" fill="#8E3C37" fill-opacity="0.8"/>
<line x1="1186.45" y1="624.31" x2="1231.25" y2="624.31" stroke="#8E3C37" stroke-width="4.4" stroke-opacity="0.8"/>
<rect x="1201.55" y="617.01" width="14.6" height="14.6" fill="#8E3C37" fill-opacity="0.8"/>
<line x1="1193.85" y1="649.58" x2="1240.05" y2="649.58" stroke="#8E3C37" stroke-width="4.4"/>
<circle cx="1216.95" cy="649.58" r="7.3" fill="#8E3C37"/>
<line x1="1168.25" y1="674.86" x2="1216.05" y2="674.86" stroke="#EBB25C" stroke-width="4.4" stroke-opacity="0.8"/>
<path d="M1192.15 663.5L1201.86 680.53L1182.44 680.53Z" fill="#EBB25C" fill-opacity="0.8"/>
<line x1="1173.65" y1="700.13" x2="1218.05" y2="700.13" stroke="#EBB25C" stroke-width="4.4" stroke-opacity="0.8"/>
<rect x="1188.55" y="692.83" width="14.6" height="14.6" fill="#EBB25C" fill-opacity="0.8"/>
<line x1="1175.05" y1="725.4" x2="1222.85" y2="725.4" stroke="#EBB25C" stroke-width="4.4"/>
<circle cx="1198.95" cy="725.4" r="7.3" fill="#EBB25C"/>
<line x1="1158.45" y1="826.5" x2="1203.25" y2="826.5" stroke="#77CAEE" stroke-width="4.4" stroke-opacity="0.8"/>
<path d="M1180.85 815.14L1190.56 832.17L1171.14 832.17Z" fill="#77CAEE" fill-opacity="0.8"/>
<line x1="1157.45" y1="851.77" x2="1202.25" y2="851.77" stroke="#77CAEE" stroke-width="4.4" stroke-opacity="0.8"/>
<rect x="1172.55" y="844.47" width="14.6" height="14.6" fill="#77CAEE" fill-opacity="0.8"/>
<line x1="1150.25" y1="877.04" x2="1194.05" y2="877.04" stroke="#77CAEE" stroke-width="4.4"/>
<circle cx="1172.15" cy="877.04" r="7.3" fill="#77CAEE"/>
<line x1="1159.25" y1="902.32" x2="1205.05" y2="902.32" stroke="#4B4B93" stroke-width="4.4" stroke-opacity="0.8"/>
<path d="M1182.15 890.96L1191.86 907.99L1172.44 907.99Z" fill="#4B4B93" fill-opacity="0.8"/>
<line x1="1165.05" y1="927.59" x2="1209.25" y2="927.59" stroke="#4B4B93" stroke-width="4.4" stroke-opacity="0.8"/>
<rect x="1179.85" y="920.29" width="14.6" height="14.6" fill="#4B4B93" fill-opacity="0.8"/>
<line x1="1154.65" y1="952.86" x2="1199.25" y2="952.86" stroke="#4B4B93" stroke-width="4.4"/>
<circle cx="1176.95" cy="952.86" r="7.3" fill="#4B4B93"/>
<line x1="1177.45" y1="978.14" x2="1222.25" y2="978.14" stroke="#8E3C37" stroke-width="4.4" stroke-opacity="0.8"/>
<path d="M1199.85 966.78L1209.56 983.81L1190.14 983.81Z" fill="#8E3C37" fill-opacity="0.8"/>
<line x1="1177.45" y1="1003.41" x2="1222.25" y2="1003.41" stroke="#8E3C37" stroke-width="4.4" stroke-opacity="0.8"/>
<rect x="1192.55" y="996.11" width="14.6" height="14.6" fill="#8E3C37" fill-opacity="0.8"/>
<line x1="1168.25" y1="1028.68" x2="1213.05" y2="1028.68" stroke="#8E3C37" stroke-width="4.4"/>
<circle cx="1190.65" cy="1028.68" r="7.3" fill="#8E3C37"/>
<line x1="1163.85" y1="1053.96" x2="1210.05" y2="1053.96" stroke="#EBB25C" stroke-width="4.4" stroke-opacity="0.8"/>
<path d="M1186.95 1042.6L1196.66 1059.63L1177.24 1059.63Z" fill="#EBB25C" fill-opacity="0.8"/>
<line x1="1153.65" y1="1079.23" x2="1198.05" y2="1079.23" stroke="#EBB25C" stroke-width="4.4" stroke-opacity="0.8"/>
<rect x="1168.55" y="1071.93" width="14.6" height="14.6" fill="#EBB25C" fill-opacity="0.8"/>
<line x1="1150.65" y1="1104.5" x2="1198.25" y2="1104.5" stroke="#EBB25C" stroke-width="4.4"/>
<circle cx="1174.45" cy="1104.5" r="7.3" fill="#EBB25C"/>
<line x1="1173.25" y1="1205.6" x2="1220.25" y2="1205.6" stroke="#77CAEE" stroke-width="4.4" stroke-opacity="0.8"/>
<path d="M1196.75 1194.24L1206.46 1211.27L1187.04 1211.27Z" fill="#77CAEE" fill-opacity="0.8"/>
<line x1="1185.45" y1="1230.87" x2="1229.05" y2="1230.87" stroke="#77CAEE" stroke-width="4.4" stroke-opacity="0.8"/>
<rect x="1199.95" y="1223.57" width="14.6" height="14.6" fill="#77CAEE" fill-opacity="0.8"/>
<line x1="1168.25" y1="1256.14" x2="1214.25" y2="1256.14" stroke="#77CAEE" stroke-width="4.4"/>
<circle cx="1191.25" cy="1256.14" r="7.3" fill="#77CAEE"/>
<line x1="1167.45" y1="1281.42" x2="1210.45" y2="1281.42" stroke="#4B4B93" stroke-width="4.4" stroke-opacity="0.8"/>
<path d="M1188.95 1270.06L1198.66 1287.09L1179.24 1287.09Z" fill="#4B4B93" fill-opacity="0.8"/>
<line x1="1186.45" y1="1306.69" x2="1229.45" y2="1306.69" stroke="#4B4B93" stroke-width="4.4" stroke-opacity="0.8"/>
<rect x="1200.65" y="1299.39" width="14.6" height="14.6" fill="#4B4B93" fill-opacity="0.8"/>
<line x1="1164.25" y1="1331.96" x2="1209.45" y2="1331.96" stroke="#4B4B93" stroke-width="4.4"/>
<circle cx="1186.85" cy="1331.96" r="7.3" fill="#4B4B93"/>
<line x1="1185.65" y1="1357.24" x2="1232.25" y2="1357.24" stroke="#8E3C37" stroke-width="4.4" stroke-opacity="0.8"/>
<path d="M1208.95 1345.88L1218.66 1362.91L1199.24 1362.91Z" fill="#8E3C37" fill-opacity="0.8"/>
<line x1="1183.25" y1="1382.51" x2="1226.85" y2="1382.51" stroke="#8E3C37" stroke-width="4.4" stroke-opacity="0.8"/>
<rect x="1197.75" y="1375.21" width="14.6" height="14.6" fill="#8E3C37" fill-opacity="0.8"/>
<line x1="1187.65" y1="1407.78" x2="1233.25" y2="1407.78" stroke="#8E3C37" stroke-width="4.4"/>
<circle cx="1210.45" cy="1407.78" r="7.3" fill="#8E3C37"/>
<line x1="1167.25" y1="1433.06" x2="1211.25" y2="1433.06" stroke="#EBB25C" stroke-width="4.4" stroke-opacity="0.8"/>
<path d="M1189.25 1421.7L1198.96 1438.73L1179.54 1438.73Z" fill="#EBB25C" fill-opacity="0.8"/>
<line x1="1173.45" y1="1458.33" x2="1217.85" y2="1458.33" stroke="#EBB25C" stroke-width="4.4" stroke-opacity="0.8"/>
<rect x="1188.35" y="1451.03" width="14.6" height="14.6" fill="#EBB25C" fill-opacity="0.8"/>
<line x1="1173.25" y1="1483.6" x2="1220.85" y2="1483.6" stroke="#EBB25C" stroke-width="4.4"/>
<circle cx="1197.05" cy="1483.6" r="7.3" fill="#EBB25C"/>
<line x1="1164.45" y1="1584.7" x2="1211.85" y2="1584.7" stroke="#77CAEE" stroke-width="4.4" stroke-opacity="0.8"/>
<path d="M1188.15 1573.34L1197.86 1590.37L1178.44 1590.37Z" fill="#77CAEE" fill-opacity="0.8"/>
<line x1="1170.65" y1="1609.97" x2="1218.05" y2="1609.97" stroke="#77CAEE" stroke-width="4.4" stroke-opacity="0.8"/>
<rect x="1187.05" y="1602.67" width="14.6" height="14.6" fill="#77CAEE" fill-opacity="0.8"/>
<line x1="1164.25" y1="1635.24" x2="1208.85" y2="1635.24" stroke="#77CAEE" stroke-width="4.4"/>
<circle cx="1186.55" cy="1635.24" r="7.3" fill="#77CAEE"/>
<line x1="1177.25" y1="1660.52" x2="1221.45" y2="1660.52" stroke="#4B4B93" stroke-width="4.4" stroke-opacity="0.8"/>
<path d="M1199.35 1649.16L1209.06 1666.19L1189.64 1666.19Z" fill="#4B4B93" fill-opacity="0.8"/>
<line x1="1175.25" y1="1685.79" x2="1223.25" y2="1685.79" stroke="#4B4B93" stroke-width="4.4" stroke-opacity="0.8"/>
<rect x="1191.95" y="1678.49" width="14.6" height="14.6" fill="#4B4B93" fill-opacity="0.8"/>
<line x1="1184.45" y1="1711.06" x2="1230.05" y2="1711.06" stroke="#4B4B93" stroke-width="4.4"/>
<circle cx="1207.25" cy="1711.06" r="7.3" fill="#4B4B93"/>
<line x1="1169.45" y1="1736.34" x2="1214.45" y2="1736.34" stroke="#8E3C37" stroke-width="4.4" stroke-opacity="0.8"/>
<path d="M1191.95 1724.98L1201.66 1742.01L1182.24 1742.01Z" fill="#8E3C37" fill-opacity="0.8"/>
<line x1="1164.45" y1="1761.61" x2="1213.25" y2="1761.61" stroke="#8E3C37" stroke-width="4.4" stroke-opacity="0.8"/>
<rect x="1181.55" y="1754.31" width="14.6" height="14.6" fill="#8E3C37" fill-opacity="0.8"/>
<line x1="1165.65" y1="1786.88" x2="1211.65" y2="1786.88" stroke="#8E3C37" stroke-width="4.4"/>
<circle cx="1188.65" cy="1786.88" r="7.3" fill="#8E3C37"/>
<line x1="1154.25" y1="1812.16" x2="1198.25" y2="1812.16" stroke="#EBB25C" stroke-width="4.4" stroke-opacity="0.8"/>
<path d="M1176.25 1800.8L1185.96 1817.83L1166.54 1817.83Z" fill="#EBB25C" fill-opacity="0.8"/>
<line x1="1139.45" y1="1837.43" x2="1186.05" y2="1837.43" stroke="#EBB25C" stroke-width="4.4" stroke-opacity="0.8"/>
<rect x="1155.45" y="1830.13" width="14.6" height="14.6" fill="#EBB25C" fill-opacity="0.8"/>
<line x1="1158.65" y1="1862.7" x2="1206.65" y2="1862.7" stroke="#EBB25C" stroke-width="4.4"/>
<circle cx="1182.65" cy="1862.7" r="7.3" fill="#EBB25C"/>
<line x1="1199.85" y1="1875.0" x2="1199.85" y2="55.7" stroke="#000" stroke-width="2.3" stroke-dasharray="7.2 7.55"/>
<rect x="1084.45" y="55.3" width="256.8" height="1819.7" fill="none" stroke="#262626" stroke-width="2"/>
<line x1="1083.45" y1="55.3" x2="1342.25" y2="55.3" stroke="#262626" stroke-width="2.6"/>
<line x1="1121.2" y1="1875" x2="1121.2" y2="1883.8" stroke="#262626" stroke-width="3.1"/>
<text transform="translate(1140.3,1916.4) rotate(-90) scale(1,1.025)" font-size="26.6" fill="#4D4D4D" text-anchor="middle">−0.1</text>
<line x1="1199.85" y1="1875" x2="1199.85" y2="1883.8" stroke="#262626" stroke-width="3.1"/>
<text transform="translate(1218.95,1916.4) rotate(-90) scale(1,1.025)" font-size="26.6" fill="#4D4D4D" text-anchor="middle">0.0</text>
<line x1="1278.5" y1="1875" x2="1278.5" y2="1883.8" stroke="#262626" stroke-width="3.1"/>
<text transform="translate(1297.6,1916.4) rotate(-90) scale(1,1.025)" font-size="26.6" fill="#4D4D4D" text-anchor="middle">0.1</text>
<rect x="1359.6" y="0.8" width="256.8" height="54.45" fill="#D9D9D9" stroke="#262626" stroke-width="1.8"/>
<text transform="translate(1488,38.8)" font-size="30.2" fill="#1A1A1A" text-anchor="middle">Reverse racism</text>
<rect x="1359.6" y="55.7" width="256.8" height="1819.3" fill="#fff"/>
<line x1="1396.35" y1="55.7" x2="1396.35" y2="1875.0" stroke="#EBEBEB" stroke-width="2.8"/>
<line x1="1475" y1="55.7" x2="1475" y2="1875.0" stroke="#EBEBEB" stroke-width="2.8"/>
<line x1="1553.65" y1="55.7" x2="1553.65" y2="1875.0" stroke="#EBEBEB" stroke-width="2.8"/>
<rect x="1359.6" y="396.85" width="256.8" height="379.1" fill="#F0F0F0"/>
<rect x="1359.6" y="1155.05" width="256.8" height="379.1" fill="#F0F0F0"/>
<line x1="1400.24" y1="93.57" x2="1455.31" y2="93.57" stroke="#77CAEE" stroke-width="4.4"/>
<circle cx="1427.78" cy="93.57" r="7.3" fill="#77CAEE"/>
<line x1="1421.26" y1="169.39" x2="1475.67" y2="169.39" stroke="#4B4B93" stroke-width="4.4"/>
<circle cx="1448.46" cy="169.39" r="7.3" fill="#4B4B93"/>
<line x1="1429.37" y1="245.21" x2="1484.58" y2="245.21" stroke="#8E3C37" stroke-width="4.4"/>
<circle cx="1456.98" cy="245.21" r="7.3" fill="#8E3C37"/>
<line x1="1464.36" y1="321.03" x2="1518.37" y2="321.03" stroke="#EBB25C" stroke-width="4.4"/>
<circle cx="1491.36" cy="321.03" r="7.3" fill="#EBB25C"/>
<line x1="1431.8" y1="447.4" x2="1484.4" y2="447.4" stroke="#77CAEE" stroke-width="4.4" stroke-opacity="0.8"/>
<path d="M1458.1 436.04L1467.81 453.07L1448.39 453.07Z" fill="#77CAEE" fill-opacity="0.8"/>
<line x1="1424.4" y1="472.67" x2="1476.8" y2="472.67" stroke="#77CAEE" stroke-width="4.4" stroke-opacity="0.8"/>
<rect x="1443.3" y="465.37" width="14.6" height="14.6" fill="#77CAEE" fill-opacity="0.8"/>
<line x1="1424.6" y1="497.94" x2="1477.6" y2="497.94" stroke="#77CAEE" stroke-width="4.4"/>
<circle cx="1451.1" cy="497.94" r="7.3" fill="#77CAEE"/>
<line x1="1441.4" y1="523.22" x2="1497.4" y2="523.22" stroke="#4B4B93" stroke-width="4.4" stroke-opacity="0.8"/>
<path d="M1469.4 511.86L1479.11 528.89L1459.69 528.89Z" fill="#4B4B93" fill-opacity="0.8"/>
<line x1="1439.4" y1="548.49" x2="1491.2" y2="548.49" stroke="#4B4B93" stroke-width="4.4" stroke-opacity="0.8"/>
<rect x="1458" y="541.19" width="14.6" height="14.6" fill="#4B4B93" fill-opacity="0.8"/>
<line x1="1444.2" y1="573.76" x2="1496.2" y2="573.76" stroke="#4B4B93" stroke-width="4.4"/>
<circle cx="1470.2" cy="573.76" r="7.3" fill="#4B4B93"/>
<line x1="1466.2" y1="599.04" x2="1517.4" y2="599.04" stroke="#8E3C37" stroke-width="4.4" stroke-opacity="0.8"/>
<path d="M1491.8 587.68L1501.51 604.71L1482.09 604.71Z" fill="#8E3C37" fill-opacity="0.8"/>
<line x1="1466.4" y1="624.31" x2="1519.4" y2="624.31" stroke="#8E3C37" stroke-width="4.4" stroke-opacity="0.8"/>
<rect x="1485.6" y="617.01" width="14.6" height="14.6" fill="#8E3C37" fill-opacity="0.8"/>
<line x1="1465.6" y1="649.58" x2="1518.8" y2="649.58" stroke="#8E3C37" stroke-width="4.4"/>
<circle cx="1492.2" cy="649.58" r="7.3" fill="#8E3C37"/>
<line x1="1466.2" y1="674.86" x2="1519" y2="674.86" stroke="#EBB25C" stroke-width="4.4" stroke-opacity="0.8"/>
<path d="M1492.6 663.5L1502.31 680.53L1482.89 680.53Z" fill="#EBB25C" fill-opacity="0.8"/>
<line x1="1457.2" y1="700.13" x2="1508" y2="700.13" stroke="#EBB25C" stroke-width="4.4" stroke-opacity="0.8"/>
<rect x="1475.3" y="692.83" width="14.6" height="14.6" fill="#EBB25C" fill-opacity="0.8"/>
<line x1="1462.4" y1="725.4" x2="1513.2" y2="725.4" stroke="#EBB25C" stroke-width="4.4"/>
<circle cx="1487.8" cy="725.4" r="7.3" fill="#EBB25C"/>
<line x1="1397.6" y1="826.5" x2="1453.4" y2="826.5" stroke="#77CAEE" stroke-width="4.4" stroke-opacity="0.8"/>
<path d="M1425.5 815.14L1435.21 832.17L1415.79 832.17Z" fill="#77CAEE" fill-opacity="0.8"/>
<line x1="1404.6" y1="851.77" x2="1455.4" y2="851.77" stroke="#77CAEE" stroke-width="4.4" stroke-opacity="0.8"/>
<rect x="1422.7" y="844.47" width="14.6" height="14.6" fill="#77CAEE" fill-opacity="0.8"/>
<line x1="1401.6" y1="877.04" x2="1453.4" y2="877.04" stroke="#77CAEE" stroke-width="4.4"/>
<circle cx="1427.5" cy="877.04" r="7.3" fill="#77CAEE"/>
<line x1="1405.4" y1="902.32" x2="1457.2" y2="902.32" stroke="#4B4B93" stroke-width="4.4" stroke-opacity="0.8"/>
<path d="M1431.3 890.96L1441.01 907.99L1421.59 907.99Z" fill="#4B4B93" fill-opacity="0.8"/>
<line x1="1414.6" y1="927.59" x2="1463.8" y2="927.59" stroke="#4B4B93" stroke-width="4.4" stroke-opacity="0.8"/>
<rect x="1431.9" y="920.29" width="14.6" height="14.6" fill="#4B4B93" fill-opacity="0.8"/>
<line x1="1413" y1="952.86" x2="1467.2" y2="952.86" stroke="#4B4B93" stroke-width="4.4"/>
<circle cx="1440.1" cy="952.86" r="7.3" fill="#4B4B93"/>
<line x1="1471.8" y1="978.14" x2="1525.2" y2="978.14" stroke="#8E3C37" stroke-width="4.4" stroke-opacity="0.8"/>
<path d="M1498.5 966.78L1508.21 983.81L1488.79 983.81Z" fill="#8E3C37" fill-opacity="0.8"/>
<line x1="1457.6" y1="1003.41" x2="1509.2" y2="1003.41" stroke="#8E3C37" stroke-width="4.4" stroke-opacity="0.8"/>
<rect x="1476.1" y="996.11" width="14.6" height="14.6" fill="#8E3C37" fill-opacity="0.8"/>
<line x1="1472" y1="1028.68" x2="1526" y2="1028.68" stroke="#8E3C37" stroke-width="4.4"/>
<circle cx="1499" cy="1028.68" r="7.3" fill="#8E3C37"/>
<line x1="1458.4" y1="1053.96" x2="1511.2" y2="1053.96" stroke="#EBB25C" stroke-width="4.4" stroke-opacity="0.8"/>
<path d="M1484.8 1042.6L1494.51 1059.63L1475.09 1059.63Z" fill="#EBB25C" fill-opacity="0.8"/>
<line x1="1454.6" y1="1079.23" x2="1507" y2="1079.23" stroke="#EBB25C" stroke-width="4.4" stroke-opacity="0.8"/>
<rect x="1473.5" y="1071.93" width="14.6" height="14.6" fill="#EBB25C" fill-opacity="0.8"/>
<line x1="1462.4" y1="1104.5" x2="1516.4" y2="1104.5" stroke="#EBB25C" stroke-width="4.4"/>
<circle cx="1489.4" cy="1104.5" r="7.3" fill="#EBB25C"/>
<line x1="1433.8" y1="1205.6" x2="1484.4" y2="1205.6" stroke="#77CAEE" stroke-width="4.4" stroke-opacity="0.8"/>
<path d="M1459.1 1194.24L1468.81 1211.27L1449.39 1211.27Z" fill="#77CAEE" fill-opacity="0.8"/>
<line x1="1435.6" y1="1230.87" x2="1488.4" y2="1230.87" stroke="#77CAEE" stroke-width="4.4" stroke-opacity="0.8"/>
<rect x="1454.7" y="1223.57" width="14.6" height="14.6" fill="#77CAEE" fill-opacity="0.8"/>
<line x1="1429.2" y1="1256.14" x2="1480.2" y2="1256.14" stroke="#77CAEE" stroke-width="4.4"/>
<circle cx="1454.7" cy="1256.14" r="7.3" fill="#77CAEE"/>
<line x1="1433.6" y1="1281.42" x2="1485.2" y2="1281.42" stroke="#4B4B93" stroke-width="4.4" stroke-opacity="0.8"/>
<path d="M1459.4 1270.06L1469.11 1287.09L1449.69 1287.09Z" fill="#4B4B93" fill-opacity="0.8"/>
<line x1="1447" y1="1306.69" x2="1496.4" y2="1306.69" stroke="#4B4B93" stroke-width="4.4" stroke-opacity="0.8"/>
<rect x="1464.4" y="1299.39" width="14.6" height="14.6" fill="#4B4B93" fill-opacity="0.8"/>
<line x1="1439.6" y1="1331.96" x2="1495" y2="1331.96" stroke="#4B4B93" stroke-width="4.4"/>
<circle cx="1467.3" cy="1331.96" r="7.3" fill="#4B4B93"/>
<line x1="1463.8" y1="1357.24" x2="1516.2" y2="1357.24" stroke="#8E3C37" stroke-width="4.4" stroke-opacity="0.8"/>
<path d="M1490 1345.88L1499.71 1362.91L1480.29 1362.91Z" fill="#8E3C37" fill-opacity="0.8"/>
<line x1="1460.6" y1="1382.51" x2="1513.2" y2="1382.51" stroke="#8E3C37" stroke-width="4.4" stroke-opacity="0.8"/>
<rect x="1479.6" y="1375.21" width="14.6" height="14.6" fill="#8E3C37" fill-opacity="0.8"/>
<line x1="1474.6" y1="1407.78" x2="1525.4" y2="1407.78" stroke="#8E3C37" stroke-width="4.4"/>
<circle cx="1500" cy="1407.78" r="7.3" fill="#8E3C37"/>
<line x1="1459.8" y1="1433.06" x2="1507.8" y2="1433.06" stroke="#EBB25C" stroke-width="4.4" stroke-opacity="0.8"/>
<path d="M1483.8 1421.7L1493.51 1438.73L1474.09 1438.73Z" fill="#EBB25C" fill-opacity="0.8"/>
<line x1="1444.6" y1="1458.33" x2="1495.6" y2="1458.33" stroke="#EBB25C" stroke-width="4.4" stroke-opacity="0.8"/>
<rect x="1462.8" y="1451.03" width="14.6" height="14.6" fill="#EBB25C" fill-opacity="0.8"/>
<line x1="1465" y1="1483.6" x2="1517.4" y2="1483.6" stroke="#EBB25C" stroke-width="4.4"/>
<circle cx="1491.2" cy="1483.6" r="7.3" fill="#EBB25C"/>
<line x1="1420.4" y1="1584.7" x2="1470" y2="1584.7" stroke="#77CAEE" stroke-width="4.4" stroke-opacity="0.8"/>
<path d="M1445.2 1573.34L1454.91 1590.37L1435.49 1590.37Z" fill="#77CAEE" fill-opacity="0.8"/>
<line x1="1419.4" y1="1609.97" x2="1473" y2="1609.97" stroke="#77CAEE" stroke-width="4.4" stroke-opacity="0.8"/>
<rect x="1438.9" y="1602.67" width="14.6" height="14.6" fill="#77CAEE" fill-opacity="0.8"/>
<line x1="1417.6" y1="1635.24" x2="1468.4" y2="1635.24" stroke="#77CAEE" stroke-width="4.4"/>
<circle cx="1443" cy="1635.24" r="7.3" fill="#77CAEE"/>
<line x1="1431.6" y1="1660.52" x2="1480.2" y2="1660.52" stroke="#4B4B93" stroke-width="4.4" stroke-opacity="0.8"/>
<path d="M1455.9 1649.16L1465.61 1666.19L1446.19 1666.19Z" fill="#4B4B93" fill-opacity="0.8"/>
<line x1="1430" y1="1685.79" x2="1481.2" y2="1685.79" stroke="#4B4B93" stroke-width="4.4" stroke-opacity="0.8"/>
<rect x="1448.3" y="1678.49" width="14.6" height="14.6" fill="#4B4B93" fill-opacity="0.8"/>
<line x1="1426.8" y1="1711.06" x2="1478.2" y2="1711.06" stroke="#4B4B93" stroke-width="4.4"/>
<circle cx="1452.5" cy="1711.06" r="7.3" fill="#4B4B93"/>
<line x1="1481.4" y1="1736.34" x2="1530" y2="1736.34" stroke="#8E3C37" stroke-width="4.4" stroke-opacity="0.8"/>
<path d="M1505.7 1724.98L1515.41 1742.01L1495.99 1742.01Z" fill="#8E3C37" fill-opacity="0.8"/>
<line x1="1480" y1="1761.61" x2="1530.6" y2="1761.61" stroke="#8E3C37" stroke-width="4.4" stroke-opacity="0.8"/>
<rect x="1498" y="1754.31" width="14.6" height="14.6" fill="#8E3C37" fill-opacity="0.8"/>
<line x1="1481.4" y1="1786.88" x2="1533.4" y2="1786.88" stroke="#8E3C37" stroke-width="4.4"/>
<circle cx="1507.4" cy="1786.88" r="7.3" fill="#8E3C37"/>
<line x1="1470.4" y1="1812.16" x2="1520" y2="1812.16" stroke="#EBB25C" stroke-width="4.4" stroke-opacity="0.8"/>
<path d="M1495.2 1800.8L1504.91 1817.83L1485.49 1817.83Z" fill="#EBB25C" fill-opacity="0.8"/>
<line x1="1459.4" y1="1837.43" x2="1507.4" y2="1837.43" stroke="#EBB25C" stroke-width="4.4" stroke-opacity="0.8"/>
<rect x="1476.1" y="1830.13" width="14.6" height="14.6" fill="#EBB25C" fill-opacity="0.8"/>
<line x1="1469.6" y1="1862.7" x2="1519.2" y2="1862.7" stroke="#EBB25C" stroke-width="4.4"/>
<circle cx="1494.4" cy="1862.7" r="7.3" fill="#EBB25C"/>
<line x1="1475" y1="1875.0" x2="1475" y2="55.7" stroke="#000" stroke-width="2.3" stroke-dasharray="7.2 7.55"/>
<rect x="1359.6" y="55.3" width="256.8" height="1819.7" fill="none" stroke="#262626" stroke-width="2"/>
<line x1="1358.6" y1="55.3" x2="1617.4" y2="55.3" stroke="#262626" stroke-width="2.6"/>
<line x1="1396.35" y1="1875" x2="1396.35" y2="1883.8" stroke="#262626" stroke-width="3.1"/>
<text transform="translate(1415.45,1916.4) rotate(-90) scale(1,1.025)" font-size="26.6" fill="#4D4D4D" text-anchor="middle">−0.1</text>
<line x1="1475" y1="1875" x2="1475" y2="1883.8" stroke="#262626" stroke-width="3.1"/>
<text transform="translate(1494.1,1916.4) rotate(-90) scale(1,1.025)" font-size="26.6" fill="#4D4D4D" text-anchor="middle">0.0</text>
<line x1="1553.65" y1="1875" x2="1553.65" y2="1883.8" stroke="#262626" stroke-width="3.1"/>
<text transform="translate(1572.75,1916.4) rotate(-90) scale(1,1.025)" font-size="26.6" fill="#4D4D4D" text-anchor="middle">0.1</text>
<rect x="1634.75" y="0.8" width="256.8" height="54.45" fill="#D9D9D9" stroke="#262626" stroke-width="1.8"/>
<text transform="translate(1763.15,38.8)" font-size="30.2" fill="#1A1A1A" text-anchor="middle">Reclaimed slur</text>
<rect x="1634.75" y="55.7" width="256.8" height="1819.3" fill="#fff"/>
<line x1="1671.5" y1="55.7" x2="1671.5" y2="1875.0" stroke="#EBEBEB" stroke-width="2.8"/>
<line x1="1750.15" y1="55.7" x2="1750.15" y2="1875.0" stroke="#EBEBEB" stroke-width="2.8"/>
<line x1="1828.8" y1="55.7" x2="1828.8" y2="1875.0" stroke="#EBEBEB" stroke-width="2.8"/>
<rect x="1634.75" y="396.85" width="256.8" height="379.1" fill="#F0F0F0"/>
<rect x="1634.75" y="1155.05" width="256.8" height="379.1" fill="#F0F0F0"/>
<line x1="1793.25" y1="93.57" x2="1844.6" y2="93.57" stroke="#77CAEE" stroke-width="4.4"/>
<circle cx="1818.92" cy="93.57" r="7.3" fill="#77CAEE"/>
<line x1="1790.46" y1="169.39" x2="1842.07" y2="169.39" stroke="#4B4B93" stroke-width="4.4"/>
<circle cx="1816.26" cy="169.39" r="7.3" fill="#4B4B93"/>
<line x1="1659.69" y1="245.21" x2="1714.37" y2="245.21" stroke="#8E3C37" stroke-width="4.4"/>
<circle cx="1687.03" cy="245.21" r="7.3" fill="#8E3C37"/>
<line x1="1685.77" y1="321.03" x2="1738.98" y2="321.03" stroke="#EBB25C" stroke-width="4.4"/>
<circle cx="1712.37" cy="321.03" r="7.3" fill="#EBB25C"/>
<line x1="1768.55" y1="447.4" x2="1814.55" y2="447.4" stroke="#77CAEE" stroke-width="4.4" stroke-opacity="0.8"/>
<path d="M1791.55 436.04L1801.26 453.07L1781.84 453.07Z" fill="#77CAEE" fill-opacity="0.8"/>
<line x1="1774.15" y1="472.67" x2="1823.15" y2="472.67" stroke="#77CAEE" stroke-width="4.4" stroke-opacity="0.8"/>
<rect x="1791.35" y="465.37" width="14.6" height="14.6" fill="#77CAEE" fill-opacity="0.8"/>
<line x1="1759.75" y1="497.94" x2="1805.35" y2="497.94" stroke="#77CAEE" stroke-width="4.4"/>
<circle cx="1782.55" cy="497.94" r="7.3" fill="#77CAEE"/>
<line x1="1756.15" y1="523.22" x2="1803.35" y2="523.22" stroke="#4B4B93" stroke-width="4.4" stroke-opacity="0.8"/>
<path d="M1779.75 511.86L1789.46 528.89L1770.04 528.89Z" fill="#4B4B93" fill-opacity="0.8"/>
<line x1="1762.15" y1="548.49" x2="1808.95" y2="548.49" stroke="#4B4B93" stroke-width="4.4" stroke-opacity="0.8"/>
<rect x="1778.25" y="541.19" width="14.6" height="14.6" fill="#4B4B93" fill-opacity="0.8"/>
<line x1="1752.35" y1="573.76" x2="1799.95" y2="573.76" stroke="#4B4B93" stroke-width="4.4"/>
<circle cx="1776.15" cy="573.76" r="7.3" fill="#4B4B93"/>
<line x1="1663.35" y1="599.04" x2="1713.55" y2="599.04" stroke="#8E3C37" stroke-width="4.4" stroke-opacity="0.8"/>
<path d="M1688.45 587.68L1698.16 604.71L1678.74 604.71Z" fill="#8E3C37" fill-opacity="0.8"/>
<line x1="1653.55" y1="624.31" x2="1703.95" y2="624.31" stroke="#8E3C37" stroke-width="4.4" stroke-opacity="0.8"/>
<rect x="1671.45" y="617.01" width="14.6" height="14.6" fill="#8E3C37" fill-opacity="0.8"/>
<line x1="1668.35" y1="649.58" x2="1717.35" y2="649.58" stroke="#8E3C37" stroke-width="4.4"/>
<circle cx="1692.85" cy="649.58" r="7.3" fill="#8E3C37"/>
<line x1="1677.35" y1="674.86" x2="1724.55" y2="674.86" stroke="#EBB25C" stroke-width="4.4" stroke-opacity="0.8"/>
<path d="M1700.95 663.5L1710.66 680.53L1691.24 680.53Z" fill="#EBB25C" fill-opacity="0.8"/>
<line x1="1665.55" y1="700.13" x2="1715.35" y2="700.13" stroke="#EBB25C" stroke-width="4.4" stroke-opacity="0.8"/>
<rect x="1683.15" y="692.83" width="14.6" height="14.6" fill="#EBB25C" fill-opacity="0.8"/>
<line x1="1670.75" y1="725.4" x2="1722.35" y2="725.4" stroke="#EBB25C" stroke-width="4.4"/>
<circle cx="1696.55" cy="725.4" r="7.3" fill="#EBB25C"/>
<line x1="1746.75" y1="826.5" x2="1794.15" y2="826.5" stroke="#77CAEE" stroke-width="4.4" stroke-opacity="0.8"/>
<path d="M1770.45 815.14L1780.16 832.17L1760.74 832.17Z" fill="#77CAEE" fill-opacity="0.8"/>
<line x1="1749.95" y1="851.77" x2="1800.95" y2="851.77" stroke="#77CAEE" stroke-width="4.4" stroke-opacity="0.8"/>
<rect x="1768.15" y="844.47" width="14.6" height="14.6" fill="#77CAEE" fill-opacity="0.8"/>
<line x1="1748.75" y1="877.04" x2="1792.35" y2="877.04" stroke="#77CAEE" stroke-width="4.4"/>
<circle cx="1770.55" cy="877.04" r="7.3" fill="#77CAEE"/>
<line x1="1729.55" y1="902.32" x2="1778.35" y2="902.32" stroke="#4B4B93" stroke-width="4.4" stroke-opacity="0.8"/>
<path d="M1753.95 890.96L1763.66 907.99L1744.24 907.99Z" fill="#4B4B93" fill-opacity="0.8"/>
<line x1="1733.55" y1="927.59" x2="1782.95" y2="927.59" stroke="#4B4B93" stroke-width="4.4" stroke-opacity="0.8"/>
<rect x="1750.95" y="920.29" width="14.6" height="14.6" fill="#4B4B93" fill-opacity="0.8"/>
<line x1="1731.55" y1="952.86" x2="1779.75" y2="952.86" stroke="#4B4B93" stroke-width="4.4"/>
<circle cx="1755.65" cy="952.86" r="7.3" fill="#4B4B93"/>
<line x1="1675.95" y1="978.14" x2="1725.95" y2="978.14" stroke="#8E3C37" stroke-width="4.4" stroke-opacity="0.8"/>
<path d="M1700.95 966.78L1710.66 983.81L1691.24 983.81Z" fill="#8E3C37" fill-opacity="0.8"/>
<line x1="1670.55" y1="1003.41" x2="1719.95" y2="1003.41" stroke="#8E3C37" stroke-width="4.4" stroke-opacity="0.8"/>
<rect x="1687.95" y="996.11" width="14.6" height="14.6" fill="#8E3C37" fill-opacity="0.8"/>
<line x1="1680.35" y1="1028.68" x2="1726.95" y2="1028.68" stroke="#8E3C37" stroke-width="4.4"/>
<circle cx="1703.65" cy="1028.68" r="7.3" fill="#8E3C37"/>
<line x1="1659.55" y1="1053.96" x2="1710.15" y2="1053.96" stroke="#EBB25C" stroke-width="4.4" stroke-opacity="0.8"/>
<path d="M1684.85 1042.6L1694.56 1059.63L1675.14 1059.63Z" fill="#EBB25C" fill-opacity="0.8"/>
<line x1="1657.55" y1="1079.23" x2="1708.35" y2="1079.23" stroke="#EBB25C" stroke-width="4.4" stroke-opacity="0.8"/>
<rect x="1675.65" y="1071.93" width="14.6" height="14.6" fill="#EBB25C" fill-opacity="0.8"/>
<line x1="1660.55" y1="1104.5" x2="1708.95" y2="1104.5" stroke="#EBB25C" stroke-width="4.4"/>
<circle cx="1684.75" cy="1104.5" r="7.3" fill="#EBB25C"/>
<line x1="1799.55" y1="1205.6" x2="1845.35" y2="1205.6" stroke="#77CAEE" stroke-width="4.4" stroke-opacity="0.8"/>
<path d="M1822.45 1194.24L1832.16 1211.27L1812.74 1211.27Z" fill="#77CAEE" fill-opacity="0.8"/>
<line x1="1815.35" y1="1230.87" x2="1864.35" y2="1230.87" stroke="#77CAEE" stroke-width="4.4" stroke-opacity="0.8"/>
<rect x="1832.55" y="1223.57" width="14.6" height="14.6" fill="#77CAEE" fill-opacity="0.8"/>
<line x1="1795.75" y1="1256.14" x2="1845.15" y2="1256.14" stroke="#77CAEE" stroke-width="4.4"/>
<circle cx="1820.45" cy="1256.14" r="7.3" fill="#77CAEE"/>
<line x1="1807.55" y1="1281.42" x2="1855.15" y2="1281.42" stroke="#4B4B93" stroke-width="4.4" stroke-opacity="0.8"/>
<path d="M1831.35 1270.06L1841.06 1287.09L1821.64 1287.09Z" fill="#4B4B93" fill-opacity="0.8"/>
<line x1="1824.35" y1="1306.69" x2="1873.15" y2="1306.69" stroke="#4B4B93" stroke-width="4.4" stroke-opacity="0.8"/>
<rect x="1841.45" y="1299.39" width="14.6" height="14.6" fill="#4B4B93" fill-opacity="0.8"/>
<line x1="1797.55" y1="1331.96" x2="1845.95" y2="1331.96" stroke="#4B4B93" stroke-width="4.4"/>
<circle cx="1821.75" cy="1331.96" r="7.3" fill="#4B4B93"/>
<line x1="1679.35" y1="1357.24" x2="1730.35" y2="1357.24" stroke="#8E3C37" stroke-width="4.4" stroke-opacity="0.8"/>
<path d="M1704.85 1345.88L1714.56 1362.91L1695.14 1362.91Z" fill="#8E3C37" fill-opacity="0.8"/>
<line x1="1674.35" y1="1382.51" x2="1727.15" y2="1382.51" stroke="#8E3C37" stroke-width="4.4" stroke-opacity="0.8"/>
<rect x="1693.45" y="1375.21" width="14.6" height="14.6" fill="#8E3C37" fill-opacity="0.8"/>
<line x1="1690.35" y1="1407.78" x2="1742.55" y2="1407.78" stroke="#8E3C37" stroke-width="4.4"/>
<circle cx="1716.45" cy="1407.78" r="7.3" fill="#8E3C37"/>
<line x1="1687.55" y1="1433.06" x2="1738.15" y2="1433.06" stroke="#EBB25C" stroke-width="4.4" stroke-opacity="0.8"/>
<path d="M1712.85 1421.7L1722.56 1438.73L1703.14 1438.73Z" fill="#EBB25C" fill-opacity="0.8"/>
<line x1="1670.35" y1="1458.33" x2="1723.15" y2="1458.33" stroke="#EBB25C" stroke-width="4.4" stroke-opacity="0.8"/>
<rect x="1689.45" y="1451.03" width="14.6" height="14.6" fill="#EBB25C" fill-opacity="0.8"/>
<line x1="1711.75" y1="1483.6" x2="1761.15" y2="1483.6" stroke="#EBB25C" stroke-width="4.4"/>
<circle cx="1736.45" cy="1483.6" r="7.3" fill="#EBB25C"/>
<line x1="1779.95" y1="1584.7" x2="1825.95" y2="1584.7" stroke="#77CAEE" stroke-width="4.4" stroke-opacity="0.8"/>
<path d="M1802.95 1573.34L1812.66 1590.37L1793.24 1590.37Z" fill="#77CAEE" fill-opacity="0.8"/>
<line x1="1782.55" y1="1609.97" x2="1829.15" y2="1609.97" stroke="#77CAEE" stroke-width="4.4" stroke-opacity="0.8"/>
<rect x="1798.55" y="1602.67" width="14.6" height="14.6" fill="#77CAEE" fill-opacity="0.8"/>
<line x1="1779.55" y1="1635.24" x2="1827.15" y2="1635.24" stroke="#77CAEE" stroke-width="4.4"/>
<circle cx="1803.35" cy="1635.24" r="7.3" fill="#77CAEE"/>
<line x1="1771.95" y1="1660.52" x2="1816.95" y2="1660.52" stroke="#4B4B93" stroke-width="4.4" stroke-opacity="0.8"/>
<path d="M1794.45 1649.16L1804.16 1666.19L1784.74 1666.19Z" fill="#4B4B93" fill-opacity="0.8"/>
<line x1="1768.35" y1="1685.79" x2="1817.15" y2="1685.79" stroke="#4B4B93" stroke-width="4.4" stroke-opacity="0.8"/>
<rect x="1785.45" y="1678.49" width="14.6" height="14.6" fill="#4B4B93" fill-opacity="0.8"/>
<line x1="1773.95" y1="1711.06" x2="1822.35" y2="1711.06" stroke="#4B4B93" stroke-width="4.4"/>
<circle cx="1798.15" cy="1711.06" r="7.3" fill="#4B4B93"/>
<line x1="1698.35" y1="1736.34" x2="1747.15" y2="1736.34" stroke="#8E3C37" stroke-width="4.4" stroke-opacity="0.8"/>
<path d="M1722.75 1724.98L1732.46 1742.01L1713.04 1742.01Z" fill="#8E3C37" fill-opacity="0.8"/>
<line x1="1695.55" y1="1761.61" x2="1743.35" y2="1761.61" stroke="#8E3C37" stroke-width="4.4" stroke-opacity="0.8"/>
<rect x="1712.15" y="1754.31" width="14.6" height="14.6" fill="#8E3C37" fill-opacity="0.8"/>
<line x1="1710.95" y1="1786.88" x2="1759.35" y2="1786.88" stroke="#8E3C37" stroke-width="4.4"/>
<circle cx="1735.15" cy="1786.88" r="7.3" fill="#8E3C37"/>
<line x1="1698.75" y1="1812.16" x2="1748.75" y2="1812.16" stroke="#EBB25C" stroke-width="4.4" stroke-opacity="0.8"/>
<path d="M1723.75 1800.8L1733.46 1817.83L1714.04 1817.83Z" fill="#EBB25C" fill-opacity="0.8"/>
<line x1="1679.55" y1="1837.43" x2="1729.15" y2="1837.43" stroke="#EBB25C" stroke-width="4.4" stroke-opacity="0.8"/>
<rect x="1697.05" y="1830.13" width="14.6" height="14.6" fill="#EBB25C" fill-opacity="0.8"/>
<line x1="1709.95" y1="1862.7" x2="1757.15" y2="1862.7" stroke="#EBB25C" stroke-width="4.4"/>
<circle cx="1733.55" cy="1862.7" r="7.3" fill="#EBB25C"/>
<line x1="1750.15" y1="1875.0" x2="1750.15" y2="55.7" stroke="#000" stroke-width="2.3" stroke-dasharray="7.2 7.55"/>
<rect x="1634.75" y="55.3" width="256.8" height="1819.7" fill="none" stroke="#262626" stroke-width="2"/>
<line x1="1633.75" y1="55.3" x2="1892.55" y2="55.3" stroke="#262626" stroke-width="2.6"/>
<line x1="1671.5" y1="1875" x2="1671.5" y2="1883.8" stroke="#262626" stroke-width="3.1"/>
<text transform="translate(1690.6,1916.4) rotate(-90) scale(1,1.025)" font-size="26.6" fill="#4D4D4D" text-anchor="middle">−0.1</text>
<line x1="1750.15" y1="1875" x2="1750.15" y2="1883.8" stroke="#262626" stroke-width="3.1"/>
<text transform="translate(1769.25,1916.4) rotate(-90) scale(1,1.025)" font-size="26.6" fill="#4D4D4D" text-anchor="middle">0.0</text>
<line x1="1828.8" y1="1875" x2="1828.8" y2="1883.8" stroke="#262626" stroke-width="3.1"/>
<text transform="translate(1847.9,1916.4) rotate(-90) scale(1,1.025)" font-size="26.6" fill="#4D4D4D" text-anchor="middle">0.1</text>
<rect x="1909.9" y="0.8" width="256.8" height="54.45" fill="#D9D9D9" stroke="#262626" stroke-width="1.8"/>
<text transform="translate(2038.3,38.8)" font-size="30.2" fill="#1A1A1A" text-anchor="middle">Racism</text>
<rect x="1909.9" y="55.7" width="256.8" height="1819.3" fill="#fff"/>
<line x1="1946.65" y1="55.7" x2="1946.65" y2="1875.0" stroke="#EBEBEB" stroke-width="2.8"/>
<line x1="2025.3" y1="55.7" x2="2025.3" y2="1875.0" stroke="#EBEBEB" stroke-width="2.8"/>
<line x1="2103.95" y1="55.7" x2="2103.95" y2="1875.0" stroke="#EBEBEB" stroke-width="2.8"/>
<rect x="1909.9" y="396.85" width="256.8" height="379.1" fill="#F0F0F0"/>
<rect x="1909.9" y="1155.05" width="256.8" height="379.1" fill="#F0F0F0"/>
<line x1="2041.66" y1="93.57" x2="2084.23" y2="93.57" stroke="#77CAEE" stroke-width="4.4"/>
<circle cx="2062.95" cy="93.57" r="7.3" fill="#77CAEE"/>
<line x1="2054.96" y1="169.39" x2="2095.14" y2="169.39" stroke="#4B4B93" stroke-width="4.4"/>
<circle cx="2075.05" cy="169.39" r="7.3" fill="#4B4B93"/>
<line x1="1952.54" y1="245.21" x2="1998.16" y2="245.21" stroke="#8E3C37" stroke-width="4.4"/>
<circle cx="1975.35" cy="245.21" r="7.3" fill="#8E3C37"/>
<line x1="1966.5" y1="321.03" x2="2012.13" y2="321.03" stroke="#EBB25C" stroke-width="4.4"/>
<circle cx="1989.32" cy="321.03" r="7.3" fill="#EBB25C"/>
<line x1="2014.7" y1="447.4" x2="2042.1" y2="447.4" stroke="#77CAEE" stroke-width="4.4" stroke-opacity="0.8"/>
<path d="M2028.4 436.04L2038.11 453.07L2018.69 453.07Z" fill="#77CAEE" fill-opacity="0.8"/>
<line x1="2020.3" y1="472.67" x2="2047.9" y2="472.67" stroke="#77CAEE" stroke-width="4.4" stroke-opacity="0.8"/>
<rect x="2026.8" y="465.37" width="14.6" height="14.6" fill="#77CAEE" fill-opacity="0.8"/>
<line x1="2014.7" y1="497.94" x2="2042.1" y2="497.94" stroke="#77CAEE" stroke-width="4.4"/>
<circle cx="2028.4" cy="497.94" r="7.3" fill="#77CAEE"/>
<line x1="2014.1" y1="523.22" x2="2041.3" y2="523.22" stroke="#4B4B93" stroke-width="4.4" stroke-opacity="0.8"/>
<path d="M2027.7 511.86L2037.41 528.89L2017.99 528.89Z" fill="#4B4B93" fill-opacity="0.8"/>
<line x1="2019.3" y1="548.49" x2="2045.9" y2="548.49" stroke="#4B4B93" stroke-width="4.4" stroke-opacity="0.8"/>
<rect x="2025.3" y="541.19" width="14.6" height="14.6" fill="#4B4B93" fill-opacity="0.8"/>
<line x1="2018.9" y1="573.76" x2="2048.1" y2="573.76" stroke="#4B4B93" stroke-width="4.4"/>
<circle cx="2033.5" cy="573.76" r="7.3" fill="#4B4B93"/>
<line x1="2001.7" y1="599.04" x2="2031.1" y2="599.04" stroke="#8E3C37" stroke-width="4.4" stroke-opacity="0.8"/>
<path d="M2016.4 587.68L2026.11 604.71L2006.69 604.71Z" fill="#8E3C37" fill-opacity="0.8"/>
<line x1="1993.7" y1="624.31" x2="2023.7" y2="624.31" stroke="#8E3C37" stroke-width="4.4" stroke-opacity="0.8"/>
<rect x="2001.4" y="617.01" width="14.6" height="14.6" fill="#8E3C37" fill-opacity="0.8"/>
<line x1="2005.3" y1="649.58" x2="2036.1" y2="649.58" stroke="#8E3C37" stroke-width="4.4"/>
<circle cx="2020.7" cy="649.58" r="7.3" fill="#8E3C37"/>
<line x1="2005.7" y1="674.86" x2="2034.3" y2="674.86" stroke="#EBB25C" stroke-width="4.4" stroke-opacity="0.8"/>
<path d="M2020 663.5L2029.71 680.53L2010.29 680.53Z" fill="#EBB25C" fill-opacity="0.8"/>
<line x1="1997.3" y1="700.13" x2="2028.1" y2="700.13" stroke="#EBB25C" stroke-width="4.4" stroke-opacity="0.8"/>
<rect x="2005.4" y="692.83" width="14.6" height="14.6" fill="#EBB25C" fill-opacity="0.8"/>
<line x1="2004.7" y1="725.4" x2="2034.9" y2="725.4" stroke="#EBB25C" stroke-width="4.4"/>
<circle cx="2019.8" cy="725.4" r="7.3" fill="#EBB25C"/>
<line x1="2015.7" y1="826.5" x2="2040.9" y2="826.5" stroke="#77CAEE" stroke-width="4.4" stroke-opacity="0.8"/>
<path d="M2028.3 815.14L2038.01 832.17L2018.59 832.17Z" fill="#77CAEE" fill-opacity="0.8"/>
<line x1="2017.9" y1="851.77" x2="2042.9" y2="851.77" stroke="#77CAEE" stroke-width="4.4" stroke-opacity="0.8"/>
<rect x="2023.1" y="844.47" width="14.6" height="14.6" fill="#77CAEE" fill-opacity="0.8"/>
<line x1="2015.3" y1="877.04" x2="2040.5" y2="877.04" stroke="#77CAEE" stroke-width="4.4"/>
<circle cx="2027.9" cy="877.04" r="7.3" fill="#77CAEE"/>
<line x1="2011.7" y1="902.32" x2="2037.9" y2="902.32" stroke="#4B4B93" stroke-width="4.4" stroke-opacity="0.8"/>
<path d="M2024.8 890.96L2034.51 907.99L2015.09 907.99Z" fill="#4B4B93" fill-opacity="0.8"/>
<line x1="2013.1" y1="927.59" x2="2039.5" y2="927.59" stroke="#4B4B93" stroke-width="4.4" stroke-opacity="0.8"/>
<rect x="2019" y="920.29" width="14.6" height="14.6" fill="#4B4B93" fill-opacity="0.8"/>
<line x1="2012.7" y1="952.86" x2="2039.3" y2="952.86" stroke="#4B4B93" stroke-width="4.4"/>
<circle cx="2026" cy="952.86" r="7.3" fill="#4B4B93"/>
<line x1="1984.3" y1="978.14" x2="2012.9" y2="978.14" stroke="#8E3C37" stroke-width="4.4" stroke-opacity="0.8"/>
<path d="M1998.6 966.78L2008.31 983.81L1988.89 983.81Z" fill="#8E3C37" fill-opacity="0.8"/>
<line x1="1988.5" y1="1003.41" x2="2016.9" y2="1003.41" stroke="#8E3C37" stroke-width="4.4" stroke-opacity="0.8"/>
<rect x="1995.4" y="996.11" width="14.6" height="14.6" fill="#8E3C37" fill-opacity="0.8"/>
<line x1="1993.7" y1="1028.68" x2="2022.1" y2="1028.68" stroke="#8E3C37" stroke-width="4.4"/>
<circle cx="2007.9" cy="1028.68" r="7.3" fill="#8E3C37"/>
<line x1="1983.5" y1="1053.96" x2="2013.3" y2="1053.96" stroke="#EBB25C" stroke-width="4.4" stroke-opacity="0.8"/>
<path d="M1998.4 1042.6L2008.11 1059.63L1988.69 1059.63Z" fill="#EBB25C" fill-opacity="0.8"/>
<line x1="1980.5" y1="1079.23" x2="2010.1" y2="1079.23" stroke="#EBB25C" stroke-width="4.4" stroke-opacity="0.8"/>
<rect x="1988" y="1071.93" width="14.6" height="14.6" fill="#EBB25C" fill-opacity="0.8"/>
<line x1="1986.7" y1="1104.5" x2="2016.3" y2="1104.5" stroke="#EBB25C" stroke-width="4.4"/>
<circle cx="2001.5" cy="1104.5" r="7.3" fill="#EBB25C"/>
<line x1="2020.7" y1="1205.6" x2="2049.9" y2="1205.6" stroke="#77CAEE" stroke-width="4.4" stroke-opacity="0.8"/>
<path d="M2035.3 1194.24L2045.01 1211.27L2025.59 1211.27Z" fill="#77CAEE" fill-opacity="0.8"/>
<line x1="2039.9" y1="1230.87" x2="2068.1" y2="1230.87" stroke="#77CAEE" stroke-width="4.4" stroke-opacity="0.8"/>
<rect x="2046.7" y="1223.57" width="14.6" height="14.6" fill="#77CAEE" fill-opacity="0.8"/>
<line x1="2028.5" y1="1256.14" x2="2056.3" y2="1256.14" stroke="#77CAEE" stroke-width="4.4"/>
<circle cx="2042.4" cy="1256.14" r="7.3" fill="#77CAEE"/>
<line x1="2016.5" y1="1281.42" x2="2046.1" y2="1281.42" stroke="#4B4B93" stroke-width="4.4" stroke-opacity="0.8"/>
<path d="M2031.3 1270.06L2041.01 1287.09L2021.59 1287.09Z" fill="#4B4B93" fill-opacity="0.8"/>
<line x1="2030.5" y1="1306.69" x2="2061.1" y2="1306.69" stroke="#4B4B93" stroke-width="4.4" stroke-opacity="0.8"/>
<rect x="2038.5" y="1299.39" width="14.6" height="14.6" fill="#4B4B93" fill-opacity="0.8"/>
<line x1="2020.7" y1="1331.96" x2="2050.3" y2="1331.96" stroke="#4B4B93" stroke-width="4.4"/>
<circle cx="2035.5" cy="1331.96" r="7.3" fill="#4B4B93"/>
<line x1="1969.3" y1="1357.24" x2="2002.1" y2="1357.24" stroke="#8E3C37" stroke-width="4.4" stroke-opacity="0.8"/>
<path d="M1985.7 1345.88L1995.41 1362.91L1975.99 1362.91Z" fill="#8E3C37" fill-opacity="0.8"/>
<line x1="1942.3" y1="1382.51" x2="1978.1" y2="1382.51" stroke="#8E3C37" stroke-width="4.4" stroke-opacity="0.8"/>
<rect x="1952.9" y="1375.21" width="14.6" height="14.6" fill="#8E3C37" fill-opacity="0.8"/>
<line x1="1983.5" y1="1407.78" x2="2016.9" y2="1407.78" stroke="#8E3C37" stroke-width="4.4"/>
<circle cx="2000.2" cy="1407.78" r="7.3" fill="#8E3C37"/>
<line x1="1975.3" y1="1433.06" x2="2009.3" y2="1433.06" stroke="#EBB25C" stroke-width="4.4" stroke-opacity="0.8"/>
<path d="M1992.3 1421.7L2002.01 1438.73L1982.59 1438.73Z" fill="#EBB25C" fill-opacity="0.8"/>
<line x1="1944.3" y1="1458.33" x2="1982.5" y2="1458.33" stroke="#EBB25C" stroke-width="4.4" stroke-opacity="0.8"/>
<rect x="1956.1" y="1451.03" width="14.6" height="14.6" fill="#EBB25C" fill-opacity="0.8"/>
<line x1="1983.5" y1="1483.6" x2="2018.1" y2="1483.6" stroke="#EBB25C" stroke-width="4.4"/>
<circle cx="2000.8" cy="1483.6" r="7.3" fill="#EBB25C"/>
<line x1="2037.5" y1="1584.7" x2="2068.7" y2="1584.7" stroke="#77CAEE" stroke-width="4.4" stroke-opacity="0.8"/>
<path d="M2053.1 1573.34L2062.81 1590.37L2043.39 1590.37Z" fill="#77CAEE" fill-opacity="0.8"/>
<line x1="2028.7" y1="1609.97" x2="2060.3" y2="1609.97" stroke="#77CAEE" stroke-width="4.4" stroke-opacity="0.8"/>
<rect x="2037.2" y="1602.67" width="14.6" height="14.6" fill="#77CAEE" fill-opacity="0.8"/>
<line x1="2032.1" y1="1635.24" x2="2063.1" y2="1635.24" stroke="#77CAEE" stroke-width="4.4"/>
<circle cx="2047.6" cy="1635.24" r="7.3" fill="#77CAEE"/>
<line x1="2030.7" y1="1660.52" x2="2062.1" y2="1660.52" stroke="#4B4B93" stroke-width="4.4" stroke-opacity="0.8"/>
<path d="M2046.4 1649.16L2056.11 1666.19L2036.69 1666.19Z" fill="#4B4B93" fill-opacity="0.8"/>
<line x1="2027.5" y1="1685.79" x2="2059.3" y2="1685.79" stroke="#4B4B93" stroke-width="4.4" stroke-opacity="0.8"/>
<rect x="2036.1" y="1678.49" width="14.6" height="14.6" fill="#4B4B93" fill-opacity="0.8"/>
<line x1="2029.1" y1="1711.06" x2="2059.9" y2="1711.06" stroke="#4B4B93" stroke-width="4.4"/>
<circle cx="2044.5" cy="1711.06" r="7.3" fill="#4B4B93"/>
<line x1="1998.7" y1="1736.34" x2="2034.5" y2="1736.34" stroke="#8E3C37" stroke-width="4.4" stroke-opacity="0.8"/>
<path d="M2016.6 1724.98L2026.31 1742.01L2006.89 1742.01Z" fill="#8E3C37" fill-opacity="0.8"/>
<line x1="1977.5" y1="1761.61" x2="2015.9" y2="1761.61" stroke="#8E3C37" stroke-width="4.4" stroke-opacity="0.8"/>
<rect x="1989.4" y="1754.31" width="14.6" height="14.6" fill="#8E3C37" fill-opacity="0.8"/>
<line x1="1999.3" y1="1786.88" x2="2034.3" y2="1786.88" stroke="#8E3C37" stroke-width="4.4"/>
<circle cx="2016.8" cy="1786.88" r="7.3" fill="#8E3C37"/>
<line x1="1998.1" y1="1812.16" x2="2031.3" y2="1812.16" stroke="#EBB25C" stroke-width="4.4" stroke-opacity="0.8"/>
<path d="M2014.7 1800.8L2024.41 1817.83L2004.99 1817.83Z" fill="#EBB25C" fill-opacity="0.8"/>
<line x1="1968.5" y1="1837.43" x2="2004.1" y2="1837.43" stroke="#EBB25C" stroke-width="4.4" stroke-opacity="0.8"/>
<rect x="1979" y="1830.13" width="14.6" height="14.6" fill="#EBB25C" fill-opacity="0.8"/>
<line x1="1993.9" y1="1862.7" x2="2028.3" y2="1862.7" stroke="#EBB25C" stroke-width="4.4"/>
<circle cx="2011.1" cy="1862.7" r="7.3" fill="#EBB25C"/>
<line x1="2025.3" y1="1875.0" x2="2025.3" y2="55.7" stroke="#000" stroke-width="2.3" stroke-dasharray="7.2 7.55"/>
<rect x="1909.9" y="55.3" width="256.8" height="1819.7" fill="none" stroke="#262626" stroke-width="2"/>
<line x1="1908.9" y1="55.3" x2="2167.7" y2="55.3" stroke="#262626" stroke-width="2.6"/>
<line x1="1946.65" y1="1875" x2="1946.65" y2="1883.8" stroke="#262626" stroke-width="3.1"/>
<text transform="translate(1965.75,1916.4) rotate(-90) scale(1,1.025)" font-size="26.6" fill="#4D4D4D" text-anchor="middle">−0.1</text>
<line x1="2025.3" y1="1875" x2="2025.3" y2="1883.8" stroke="#262626" stroke-width="3.1"/>
<text transform="translate(2044.4,1916.4) rotate(-90) scale(1,1.025)" font-size="26.6" fill="#4D4D4D" text-anchor="middle">0.0</text>
<line x1="2103.95" y1="1875" x2="2103.95" y2="1883.8" stroke="#262626" stroke-width="3.1"/>
<text transform="translate(2123.05,1916.4) rotate(-90) scale(1,1.025)" font-size="26.6" fill="#4D4D4D" text-anchor="middle">0.1</text>
<line x1="250" y1="207.3" x2="259" y2="207.3" stroke="#262626" stroke-width="3.1"/>
<text transform="translate(244,216.8)" font-size="26" fill="#4D4D4D" text-anchor="end">Human</text>
<line x1="250" y1="586.4" x2="259" y2="586.4" stroke="#262626" stroke-width="3.1"/>
<text transform="translate(244,595.9)" font-size="26" fill="#4D4D4D" text-anchor="end">GPT−4o</text>
<line x1="250" y1="965.5" x2="259" y2="965.5" stroke="#262626" stroke-width="3.1"/>
<text transform="translate(244,975)" font-size="26" fill="#4D4D4D" text-anchor="end">GPT−4o mini</text>
<line x1="250" y1="1344.6" x2="259" y2="1344.6" stroke="#262626" stroke-width="3.1"/>
<text transform="translate(244,1354.1)" font-size="26" fill="#4D4D4D" text-anchor="end">Gemini 2.5 Flash</text>
<line x1="250" y1="1723.7" x2="259" y2="1723.7" stroke="#262626" stroke-width="3.1"/>
<text transform="translate(244,1733.2)" font-size="26" fill="#4D4D4D" text-anchor="end">Gemini 2.5 Flash Lite</text>
<text transform="translate(1213.5,1975.2)" font-size="34.5" fill="#000" text-anchor="middle">Difference in Marginal Means</text>
<text transform="translate(662.8,2064.6)" font-size="34.5" fill="#000">Identity</text>
<line x1="799.2" y1="2051.4" x2="858.8" y2="2051.4" stroke="#EBB25C" stroke-width="4.4"/>
<circle cx="828.9" cy="2051.4" r="8.6" fill="#EBB25C"/>
<text transform="translate(882.3,2060.6)" font-size="26" fill="#000">Black woman</text>
<line x1="1061" y1="2051.4" x2="1120.6" y2="2051.4" stroke="#8E3C37" stroke-width="4.4"/>
<circle cx="1090.9" cy="2051.4" r="8.6" fill="#8E3C37"/>
<text transform="translate(1143.9,2060.6)" font-size="26" fill="#000">Black man</text>
<line x1="1289.7" y1="2051.4" x2="1349.3" y2="2051.4" stroke="#4B4B93" stroke-width="4.4"/>
<circle cx="1319.5" cy="2051.4" r="8.6" fill="#4B4B93"/>
<text transform="translate(1372.6,2060.6)" font-size="26" fill="#000">White woman</text>
<line x1="1554.4" y1="2051.4" x2="1614" y2="2051.4" stroke="#77CAEE" stroke-width="4.4"/>
<circle cx="1584.4" cy="2051.4" r="8.6" fill="#77CAEE"/>
<text transform="translate(1637.5,2060.6)" font-size="26" fill="#000">White man</text>
<text transform="translate(796,2146.2)" font-size="34.5" fill="#000">Prompt</text>
<circle cx="961.5" cy="2134" r="7.3" fill="#000"/>
<rect x="1161.5" y="2126.6" width="14.8" height="14.8" fill="#000"/>
<path d="M1485.1 2122.6L1495 2139.9L1475.2 2139.9Z" fill="#000"/>
<text transform="translate(1015.8,2142.9)" font-size="26" fill="#000">Baseline</text>
<text transform="translate(1222.6,2142.9)" font-size="26" fill="#000">Context−Sensitive</text>
<text transform="translate(1539.6,2142.9)" font-size="26" fill="#000">Uniform</text>
</svg></body></html>
